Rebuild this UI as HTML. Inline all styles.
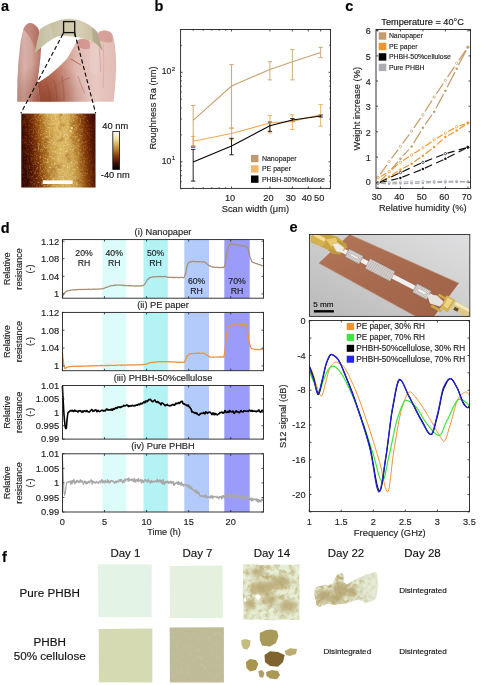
<!DOCTYPE html>
<html><head><meta charset="utf-8"><title>Figure</title>
<style>
html,body{margin:0;padding:0;background:#fff;}
body{width:483px;height:685px;overflow:hidden;}
svg{display:block;font-family:"Liberation Sans", sans-serif;will-change:transform;}
text{stroke-width:0.15px;paint-order:stroke;}
</style></head><body>
<svg width="483" height="685" viewBox="0 0 483 685">

<defs>
<clipPath id="clipHand"><path d="M17.2,101.8 L17.4,80 L18.4,62 L20.5,42 L23.4,29 C25,25.2 27.2,23.2 29.5,23 C33,22.9 36.5,25.5 38.6,29.5 C40.2,35 41.1,42 41,49.4 C40.6,60 39,70 37.8,79.5 L37.4,82 L40,101.8 Z"/><path d="M37.4,82 L39.6,81.7 L48.3,75.9 L58.5,67.2 L67.2,58.5 L73,48.3 L77.3,40.6 L80,38.6 L86,38.4 L91,41 L96.5,33.5 C98.5,31.4 101,30.6 104.5,30.6 C108,30.8 110.8,32 112.2,34.2 C113.8,37.5 114.6,42 115.2,48 C116,55 116.3,62 116.1,70 C115.8,80 115,90 113.6,101.8 L40,101.8 Z"/></clipPath>
<clipPath id="clipE"><rect x="309.5" y="320.5" width="160.0" height="191.1"/></clipPath>
<clipPath id="clipPhotoE"><rect x="309.5" y="234.5" width="160.3" height="81.9"/></clipPath>
<clipPath id="clipD14"><polygon points="242.8,564.6 252,564.2 262,565 275,564.4 290,564.8 299.6,564.3 299.2,578 299.8,592 299.4,606 299.4,620.2 286,619.6 272,620.4 258,619.4 243.2,619.8 243.6,606 242.6,592 243.4,578"/></clipPath>
<clipPath id="clipD22"><polygon points="315.1,587.6 320.4,586.1 325,584.5 328.2,586.1 332.8,583 335,578.3 337.5,574.3 342.1,573 344.3,576.7 343.7,581.4 346.8,584.5 351.5,581.4 354.6,579.8 359.2,577.4 362.3,576.7 365.4,574.3 370.1,573.6 374.8,572.1 377.2,573.6 377.9,586.1 376.3,598.5 371.6,601.6 365.4,603.1 362.3,601 357.7,600 353,601.6 348.4,603.1 342.1,604.1 334.4,604.7 328.2,604.1 323.5,605.6 318.9,607.2 316.4,604.7 315.1,598.5 314.2,592.3"/></clipPath>
<linearGradient id="gPhotoBg" x1="0" y1="1" x2="1" y2="0">
  <stop offset="0" stop-color="#b9b9b9"/><stop offset="0.45" stop-color="#cbcbcb"/><stop offset="1" stop-color="#dfdfe1"/>
</linearGradient>
<linearGradient id="gSub" x1="0" y1="0" x2="1" y2="1">
  <stop offset="0" stop-color="#b27658"/><stop offset="0.5" stop-color="#a86a4e"/><stop offset="1" stop-color="#9e6246"/>
</linearGradient>
<linearGradient id="gThumb" x1="0" y1="0" x2="1" y2="0">
  <stop offset="0" stop-color="#c4948c"/><stop offset="0.3" stop-color="#d8b2aa"/><stop offset="0.6" stop-color="#d2a49a"/><stop offset="1" stop-color="#b87468"/>
</linearGradient>
<radialGradient id="gHandDark" gradientUnits="userSpaceOnUse" cx="48" cy="104" r="42">
  <stop offset="0" stop-color="#6a1e0a" stop-opacity="0.55"/><stop offset="0.45" stop-color="#7a2a14" stop-opacity="0.3"/><stop offset="1" stop-color="#7a2a14" stop-opacity="0"/>
</radialGradient>
<linearGradient id="gSkin" x1="0" y1="0" x2="1" y2="0">
  <stop offset="0" stop-color="#b0604a"/><stop offset="0.2" stop-color="#c07a64"/><stop offset="0.38" stop-color="#d29e90"/><stop offset="0.5" stop-color="#e0bab2"/><stop offset="0.75" stop-color="#e8c8c2"/><stop offset="1" stop-color="#e0bcb4"/>
</linearGradient>
<linearGradient id="gPaper" x1="0" y1="0" x2="1" y2="0">
  <stop offset="0" stop-color="#b2aa8a"/><stop offset="0.3" stop-color="#cbc3a6"/><stop offset="0.65" stop-color="#d6ceb4"/><stop offset="0.9" stop-color="#cac0a2"/><stop offset="1" stop-color="#bab090"/>
</linearGradient>
<linearGradient id="gAFM" x1="0" y1="0.1" x2="1" y2="0">
  <stop offset="0" stop-color="#3a0800"/><stop offset="0.08" stop-color="#561600"/><stop offset="0.16" stop-color="#7a3004"/><stop offset="0.25" stop-color="#a66618"/><stop offset="0.35" stop-color="#cc9c44"/><stop offset="0.47" stop-color="#dfba62"/><stop offset="0.6" stop-color="#dab25c"/><stop offset="0.7" stop-color="#c08a34"/><stop offset="0.8" stop-color="#8a400a"/><stop offset="0.9" stop-color="#581600"/><stop offset="1" stop-color="#380600"/>
</linearGradient>
<linearGradient id="gAFMv" x1="0" y1="0" x2="0" y2="1">
  <stop offset="0" stop-color="#000" stop-opacity="0"/><stop offset="1" stop-color="#000" stop-opacity="0.05"/>
</linearGradient>
<linearGradient id="gCbar" x1="0" y1="0" x2="0" y2="1">
  <stop offset="0" stop-color="#ffffff"/><stop offset="0.2" stop-color="#f2e0a0"/><stop offset="0.45" stop-color="#c08a30"/><stop offset="0.65" stop-color="#8a3a08"/><stop offset="0.85" stop-color="#3a0c00"/><stop offset="1" stop-color="#000000"/>
</linearGradient>
<linearGradient id="gMaskC" x1="0" y1="0" x2="1" y2="0">
  <stop offset="0" stop-color="#fff" stop-opacity="0.15"/><stop offset="0.3" stop-color="#fff" stop-opacity="1"/><stop offset="0.7" stop-color="#fff" stop-opacity="1"/><stop offset="1" stop-color="#fff" stop-opacity="0.1"/>
</linearGradient>
<mask id="mAFMc" maskUnits="userSpaceOnUse" x="21.3" y="113.6" width="74.2" height="73.9"><rect x="21.3" y="113.6" width="74.2" height="73.9" fill="url(#gMaskC)"/></mask>
<linearGradient id="gMaskD22" x1="0" y1="0" x2="1" y2="0">
  <stop offset="0" stop-color="#fff" stop-opacity="1"/><stop offset="0.55" stop-color="#fff" stop-opacity="0.9"/><stop offset="0.8" stop-color="#fff" stop-opacity="0.35"/><stop offset="1" stop-color="#fff" stop-opacity="0.15"/>
</linearGradient>
<mask id="mD22" maskUnits="userSpaceOnUse" x="314" y="571" width="64" height="37"><rect x="314" y="571" width="64" height="37" fill="url(#gMaskD22)"/></mask>
<radialGradient id="gMaskD14" cx="0.45" cy="0.38" r="0.65">
  <stop offset="0" stop-color="#fff" stop-opacity="1"/><stop offset="0.5" stop-color="#fff" stop-opacity="0.85"/><stop offset="1" stop-color="#fff" stop-opacity="0.5"/>
</radialGradient>
<mask id="mD14" maskUnits="userSpaceOnUse" x="242" y="564" width="58" height="57"><rect x="242" y="564" width="58" height="57" fill="url(#gMaskD14)"/></mask>
<filter id="fBlur2" x="-20%" y="-20%" width="140%" height="140%"><feGaussianBlur stdDeviation="2.2"/></filter>
<filter id="fNoise" x="0" y="0" width="100%" height="100%">
  <feTurbulence type="fractalNoise" baseFrequency="0.55" numOctaves="2" seed="4" result="t"/>
  <feColorMatrix in="t" type="matrix" values="0 0 0 0 1.0  0 0 0 0 0.88  0 0 0 0 0.55  0 0 0 3.0 -1.4" result="m"/>
  <feComposite in="m" in2="SourceGraphic" operator="in"/>
</filter>
<filter id="fNoiseD" x="0" y="0" width="100%" height="100%">
  <feTurbulence type="fractalNoise" baseFrequency="0.14" numOctaves="3" seed="9" result="t"/>
  <feColorMatrix in="t" type="matrix" values="0 0 0 0 0.25  0 0 0 0 0.05  0 0 0 0 0.0  0 0 0 2.4 -1.25" result="m"/>
  <feComposite in="m" in2="SourceGraphic" operator="in"/>
</filter>
<filter id="fNoise2" x="0" y="0" width="100%" height="100%">
  <feTurbulence type="fractalNoise" baseFrequency="0.25" numOctaves="2" seed="7" result="t"/>
  <feColorMatrix in="t" type="matrix" values="0 0 0 0 0.6  0 0 0 0 0.57  0 0 0 0 0.45  0 0 0 2.5 -1.3" result="m"/>
  <feComposite in="m" in2="SourceGraphic" operator="in"/>
</filter>
<filter id="fBlot" x="0" y="0" width="100%" height="100%">
  <feTurbulence type="fractalNoise" baseFrequency="0.2" numOctaves="4" seed="11" result="t"/>
  <feColorMatrix in="t" type="matrix" values="0 0 0 0 0.5  0 0 0 0 0.4  0 0 0 0 0.17  0 0 0 2.6 -1.05" result="m"/>
  <feComposite in="m" in2="SourceGraphic" operator="in"/>
</filter>
<filter id="fBlot2" x="0" y="0" width="100%" height="100%">
  <feTurbulence type="fractalNoise" baseFrequency="0.25" numOctaves="4" seed="5" result="t"/>
  <feColorMatrix in="t" type="matrix" values="0 0 0 0 0.48  0 0 0 0 0.38  0 0 0 0 0.15  0 0 0 2.8 -1.1" result="m"/>
  <feComposite in="m" in2="SourceGraphic" operator="in"/>
</filter>
</defs>

<rect x="0" y="0" width="483" height="685" fill="#fff"/>
<text x="0.90" y="10.60" font-size="14.5" text-anchor="start" font-weight="bold" fill="#000" stroke="#000">a</text>
<text x="154.40" y="11.30" font-size="14.5" text-anchor="start" font-weight="bold" fill="#000" stroke="#000">b</text>
<text x="345.20" y="10.60" font-size="14.5" text-anchor="start" font-weight="bold" fill="#000" stroke="#000">c</text>
<text x="0.80" y="232.80" font-size="14.5" text-anchor="start" font-weight="bold" fill="#000" stroke="#000">d</text>
<text x="289.50" y="231.70" font-size="14.5" text-anchor="start" font-weight="bold" fill="#000" stroke="#000">e</text>
<text x="2.00" y="561.70" font-size="14.5" text-anchor="start" font-weight="bold" fill="#000" stroke="#000">f</text>
<line x1="193.16" y1="136.40" x2="193.16" y2="146.20" stroke="#eeab55" stroke-width="0.9"/>
<line x1="190.96" y1="136.40" x2="195.36" y2="136.40" stroke="#eeab55" stroke-width="0.9"/>
<line x1="190.96" y1="146.20" x2="195.36" y2="146.20" stroke="#eeab55" stroke-width="0.9"/>
<line x1="231.54" y1="127.90" x2="231.54" y2="139.70" stroke="#eeab55" stroke-width="0.9"/>
<line x1="229.34" y1="127.90" x2="233.74" y2="127.90" stroke="#eeab55" stroke-width="0.9"/>
<line x1="229.34" y1="139.70" x2="233.74" y2="139.70" stroke="#eeab55" stroke-width="0.9"/>
<line x1="269.92" y1="115.50" x2="269.92" y2="133.00" stroke="#eeab55" stroke-width="0.9"/>
<line x1="267.72" y1="115.50" x2="272.12" y2="115.50" stroke="#eeab55" stroke-width="0.9"/>
<line x1="267.72" y1="133.00" x2="272.12" y2="133.00" stroke="#eeab55" stroke-width="0.9"/>
<line x1="292.37" y1="114.80" x2="292.37" y2="129.60" stroke="#eeab55" stroke-width="0.9"/>
<line x1="290.17" y1="114.80" x2="294.57" y2="114.80" stroke="#eeab55" stroke-width="0.9"/>
<line x1="290.17" y1="129.60" x2="294.57" y2="129.60" stroke="#eeab55" stroke-width="0.9"/>
<line x1="320.66" y1="104.60" x2="320.66" y2="126.20" stroke="#eeab55" stroke-width="0.9"/>
<line x1="318.46" y1="104.60" x2="322.86" y2="104.60" stroke="#eeab55" stroke-width="0.9"/>
<line x1="318.46" y1="126.20" x2="322.86" y2="126.20" stroke="#eeab55" stroke-width="0.9"/>
<line x1="193.16" y1="105.50" x2="193.16" y2="146.00" stroke="#c8a271" stroke-width="0.9"/>
<line x1="190.96" y1="105.50" x2="195.36" y2="105.50" stroke="#c8a271" stroke-width="0.9"/>
<line x1="190.96" y1="146.00" x2="195.36" y2="146.00" stroke="#c8a271" stroke-width="0.9"/>
<line x1="231.54" y1="64.60" x2="231.54" y2="128.30" stroke="#c8a271" stroke-width="0.9"/>
<line x1="229.34" y1="64.60" x2="233.74" y2="64.60" stroke="#c8a271" stroke-width="0.9"/>
<line x1="229.34" y1="128.30" x2="233.74" y2="128.30" stroke="#c8a271" stroke-width="0.9"/>
<line x1="269.92" y1="61.70" x2="269.92" y2="79.90" stroke="#c8a271" stroke-width="0.9"/>
<line x1="267.72" y1="61.70" x2="272.12" y2="61.70" stroke="#c8a271" stroke-width="0.9"/>
<line x1="267.72" y1="79.90" x2="272.12" y2="79.90" stroke="#c8a271" stroke-width="0.9"/>
<line x1="292.37" y1="49.60" x2="292.37" y2="79.90" stroke="#c8a271" stroke-width="0.9"/>
<line x1="290.17" y1="49.60" x2="294.57" y2="49.60" stroke="#c8a271" stroke-width="0.9"/>
<line x1="290.17" y1="79.90" x2="294.57" y2="79.90" stroke="#c8a271" stroke-width="0.9"/>
<line x1="320.66" y1="47.30" x2="320.66" y2="57.60" stroke="#c8a271" stroke-width="0.9"/>
<line x1="318.46" y1="47.30" x2="322.86" y2="47.30" stroke="#c8a271" stroke-width="0.9"/>
<line x1="318.46" y1="57.60" x2="322.86" y2="57.60" stroke="#c8a271" stroke-width="0.9"/>
<line x1="193.16" y1="149.40" x2="193.16" y2="181.10" stroke="#111" stroke-width="0.9"/>
<line x1="190.96" y1="149.40" x2="195.36" y2="149.40" stroke="#111" stroke-width="0.9"/>
<line x1="190.96" y1="181.10" x2="195.36" y2="181.10" stroke="#111" stroke-width="0.9"/>
<line x1="231.54" y1="138.30" x2="231.54" y2="154.80" stroke="#111" stroke-width="0.9"/>
<line x1="229.34" y1="138.30" x2="233.74" y2="138.30" stroke="#111" stroke-width="0.9"/>
<line x1="229.34" y1="154.80" x2="233.74" y2="154.80" stroke="#111" stroke-width="0.9"/>
<line x1="269.92" y1="122.10" x2="269.92" y2="131.40" stroke="#111" stroke-width="0.9"/>
<line x1="267.72" y1="122.10" x2="272.12" y2="122.10" stroke="#111" stroke-width="0.9"/>
<line x1="267.72" y1="131.40" x2="272.12" y2="131.40" stroke="#111" stroke-width="0.9"/>
<line x1="292.37" y1="118.60" x2="292.37" y2="121.60" stroke="#111" stroke-width="0.9"/>
<line x1="290.17" y1="118.60" x2="294.57" y2="118.60" stroke="#111" stroke-width="0.9"/>
<line x1="290.17" y1="121.60" x2="294.57" y2="121.60" stroke="#111" stroke-width="0.9"/>
<line x1="320.66" y1="115.00" x2="320.66" y2="117.00" stroke="#111" stroke-width="0.9"/>
<line x1="318.46" y1="115.00" x2="322.86" y2="115.00" stroke="#111" stroke-width="0.9"/>
<line x1="318.46" y1="117.00" x2="322.86" y2="117.00" stroke="#111" stroke-width="0.9"/>
<line x1="190.96" y1="146.30" x2="195.36" y2="146.30" stroke="#e0603a" stroke-width="0.9"/>
<line x1="190.96" y1="147.50" x2="195.36" y2="147.50" stroke="#4a78d0" stroke-width="0.9"/>
<polyline points="193.16,120.30 231.54,86.00 269.92,69.40 292.37,61.70 320.66,52.60" fill="none" stroke="#c8a271" stroke-width="1.1" stroke-linejoin="round"/>
<polyline points="193.16,141.20 231.54,133.50 269.92,123.00 292.37,121.40 320.66,114.80" fill="none" stroke="#eeab55" stroke-width="1.1" stroke-linejoin="round"/>
<polyline points="193.16,161.90 231.54,145.90 269.92,125.80 292.37,120.00 320.66,116.00" fill="none" stroke="#000" stroke-width="1.1" stroke-linejoin="round"/>
<rect x="180.60" y="29.50" width="149.90" height="158.90" fill="none" stroke="#222" stroke-width="0.9"/>
<line x1="180.60" y1="188.74" x2="181.80" y2="188.74" stroke="#222" stroke-width="0.8"/>
<line x1="330.50" y1="188.74" x2="329.30" y2="188.74" stroke="#222" stroke-width="0.8"/>
<line x1="180.60" y1="181.66" x2="181.80" y2="181.66" stroke="#222" stroke-width="0.8"/>
<line x1="330.50" y1="181.66" x2="329.30" y2="181.66" stroke="#222" stroke-width="0.8"/>
<line x1="180.60" y1="175.66" x2="181.80" y2="175.66" stroke="#222" stroke-width="0.8"/>
<line x1="330.50" y1="175.66" x2="329.30" y2="175.66" stroke="#222" stroke-width="0.8"/>
<line x1="180.60" y1="170.47" x2="181.80" y2="170.47" stroke="#222" stroke-width="0.8"/>
<line x1="330.50" y1="170.47" x2="329.30" y2="170.47" stroke="#222" stroke-width="0.8"/>
<line x1="180.60" y1="165.90" x2="181.80" y2="165.90" stroke="#222" stroke-width="0.8"/>
<line x1="330.50" y1="165.90" x2="329.30" y2="165.90" stroke="#222" stroke-width="0.8"/>
<line x1="180.60" y1="161.80" x2="182.60" y2="161.80" stroke="#222" stroke-width="0.8"/>
<line x1="330.50" y1="161.80" x2="328.50" y2="161.80" stroke="#222" stroke-width="0.8"/>
<line x1="180.60" y1="134.86" x2="181.80" y2="134.86" stroke="#222" stroke-width="0.8"/>
<line x1="330.50" y1="134.86" x2="329.30" y2="134.86" stroke="#222" stroke-width="0.8"/>
<line x1="180.60" y1="119.10" x2="181.80" y2="119.10" stroke="#222" stroke-width="0.8"/>
<line x1="330.50" y1="119.10" x2="329.30" y2="119.10" stroke="#222" stroke-width="0.8"/>
<line x1="180.60" y1="107.92" x2="181.80" y2="107.92" stroke="#222" stroke-width="0.8"/>
<line x1="330.50" y1="107.92" x2="329.30" y2="107.92" stroke="#222" stroke-width="0.8"/>
<line x1="180.60" y1="99.24" x2="181.80" y2="99.24" stroke="#222" stroke-width="0.8"/>
<line x1="330.50" y1="99.24" x2="329.30" y2="99.24" stroke="#222" stroke-width="0.8"/>
<line x1="180.60" y1="92.16" x2="181.80" y2="92.16" stroke="#222" stroke-width="0.8"/>
<line x1="330.50" y1="92.16" x2="329.30" y2="92.16" stroke="#222" stroke-width="0.8"/>
<line x1="180.60" y1="86.16" x2="181.80" y2="86.16" stroke="#222" stroke-width="0.8"/>
<line x1="330.50" y1="86.16" x2="329.30" y2="86.16" stroke="#222" stroke-width="0.8"/>
<line x1="180.60" y1="80.97" x2="181.80" y2="80.97" stroke="#222" stroke-width="0.8"/>
<line x1="330.50" y1="80.97" x2="329.30" y2="80.97" stroke="#222" stroke-width="0.8"/>
<line x1="180.60" y1="76.40" x2="181.80" y2="76.40" stroke="#222" stroke-width="0.8"/>
<line x1="330.50" y1="76.40" x2="329.30" y2="76.40" stroke="#222" stroke-width="0.8"/>
<line x1="180.60" y1="72.30" x2="182.60" y2="72.30" stroke="#222" stroke-width="0.8"/>
<line x1="330.50" y1="72.30" x2="328.50" y2="72.30" stroke="#222" stroke-width="0.8"/>
<line x1="180.60" y1="45.36" x2="181.80" y2="45.36" stroke="#222" stroke-width="0.8"/>
<line x1="330.50" y1="45.36" x2="329.30" y2="45.36" stroke="#222" stroke-width="0.8"/>
<line x1="180.60" y1="29.60" x2="181.80" y2="29.60" stroke="#222" stroke-width="0.8"/>
<line x1="330.50" y1="29.60" x2="329.30" y2="29.60" stroke="#222" stroke-width="0.8"/>
<line x1="193.16" y1="188.40" x2="193.16" y2="187.20" stroke="#222" stroke-width="0.8"/>
<line x1="193.16" y1="29.50" x2="193.16" y2="30.70" stroke="#222" stroke-width="0.8"/>
<line x1="203.25" y1="188.40" x2="203.25" y2="187.20" stroke="#222" stroke-width="0.8"/>
<line x1="203.25" y1="29.50" x2="203.25" y2="30.70" stroke="#222" stroke-width="0.8"/>
<line x1="211.79" y1="188.40" x2="211.79" y2="187.20" stroke="#222" stroke-width="0.8"/>
<line x1="211.79" y1="29.50" x2="211.79" y2="30.70" stroke="#222" stroke-width="0.8"/>
<line x1="219.18" y1="188.40" x2="219.18" y2="187.20" stroke="#222" stroke-width="0.8"/>
<line x1="219.18" y1="29.50" x2="219.18" y2="30.70" stroke="#222" stroke-width="0.8"/>
<line x1="225.70" y1="188.40" x2="225.70" y2="187.20" stroke="#222" stroke-width="0.8"/>
<line x1="225.70" y1="29.50" x2="225.70" y2="30.70" stroke="#222" stroke-width="0.8"/>
<line x1="231.54" y1="188.40" x2="231.54" y2="186.40" stroke="#222" stroke-width="0.8"/>
<line x1="231.54" y1="29.50" x2="231.54" y2="31.50" stroke="#222" stroke-width="0.8"/>
<line x1="269.92" y1="188.40" x2="269.92" y2="186.40" stroke="#222" stroke-width="0.8"/>
<line x1="269.92" y1="29.50" x2="269.92" y2="31.50" stroke="#222" stroke-width="0.8"/>
<line x1="292.37" y1="188.40" x2="292.37" y2="186.40" stroke="#222" stroke-width="0.8"/>
<line x1="292.37" y1="29.50" x2="292.37" y2="31.50" stroke="#222" stroke-width="0.8"/>
<line x1="308.30" y1="188.40" x2="308.30" y2="186.40" stroke="#222" stroke-width="0.8"/>
<line x1="308.30" y1="29.50" x2="308.30" y2="31.50" stroke="#222" stroke-width="0.8"/>
<line x1="320.66" y1="188.40" x2="320.66" y2="186.40" stroke="#222" stroke-width="0.8"/>
<line x1="320.66" y1="29.50" x2="320.66" y2="31.50" stroke="#222" stroke-width="0.8"/>
<text x="230.04" y="201.20" font-size="9.2" text-anchor="middle" font-weight="normal" fill="#222" stroke="#222">10</text>
<text x="268.42" y="201.20" font-size="9.2" text-anchor="middle" font-weight="normal" fill="#222" stroke="#222">20</text>
<text x="290.87" y="201.20" font-size="9.2" text-anchor="middle" font-weight="normal" fill="#222" stroke="#222">30</text>
<text x="306.80" y="201.20" font-size="9.2" text-anchor="middle" font-weight="normal" fill="#222" stroke="#222">40</text>
<text x="319.16" y="201.20" font-size="9.2" text-anchor="middle" font-weight="normal" fill="#222" stroke="#222">50</text>
<text x="171.30" y="74.10" font-size="8.6" text-anchor="end" font-weight="normal" fill="#222" stroke="#222">10</text>
<text x="171.70" y="70.50" font-size="6.2" text-anchor="start" font-weight="normal" fill="#222" stroke="#222">2</text>
<text x="171.30" y="163.60" font-size="8.6" text-anchor="end" font-weight="normal" fill="#222" stroke="#222">10</text>
<text x="171.70" y="160.00" font-size="6.2" text-anchor="start" font-weight="normal" fill="#222" stroke="#222">1</text>
<text x="255.40" y="212.00" font-size="9.3" text-anchor="middle" font-weight="normal" fill="#222" stroke="#222">Scan width (μm)</text>
<text x="155.60" y="108.00" font-size="9.3" text-anchor="middle" font-weight="normal" fill="#222" stroke="#222" transform="rotate(-90 155.6 108.0)">Roughness Ra (nm)</text>
<rect x="251.00" y="154.90" width="7.50" height="7.30" fill="#c09a70" stroke="none" stroke-width="1"/>
<rect x="251.00" y="165.30" width="7.50" height="7.30" fill="#f0b868" stroke="none" stroke-width="1"/>
<rect x="251.00" y="175.50" width="7.50" height="7.30" fill="#000" stroke="none" stroke-width="1"/>
<text x="261.90" y="161.00" font-size="7.0" text-anchor="start" font-weight="normal" fill="#222" stroke="#222">Nanopaper</text>
<text x="261.90" y="171.30" font-size="7.0" text-anchor="start" font-weight="normal" fill="#222" stroke="#222">PE paper</text>
<text x="261.90" y="182.00" font-size="7.0" text-anchor="start" font-weight="normal" fill="#222" stroke="#222">PHBH-50%cellulose</text>
<line x1="380.16" y1="174.29" x2="386.89" y2="164.78" stroke="#c49b6c" stroke-width="1.2"/>
<line x1="391.48" y1="158.47" x2="398.07" y2="149.62" stroke="#c49b6c" stroke-width="1.2"/>
<line x1="402.70" y1="143.35" x2="409.35" y2="134.28" stroke="#c49b6c" stroke-width="1.2"/>
<line x1="413.86" y1="127.92" x2="420.69" y2="117.96" stroke="#c49b6c" stroke-width="1.2"/>
<line x1="425.00" y1="111.46" x2="432.05" y2="100.37" stroke="#c49b6c" stroke-width="1.2"/>
<line x1="436.33" y1="93.85" x2="443.22" y2="83.67" stroke="#c49b6c" stroke-width="1.2"/>
<line x1="447.54" y1="77.18" x2="454.51" y2="66.55" stroke="#c49b6c" stroke-width="1.2"/>
<line x1="458.88" y1="60.09" x2="465.67" y2="50.36" stroke="#c49b6c" stroke-width="1.2"/>
<circle cx="377.90" cy="177.47" r="1.2" fill="#fff" stroke="#c49b6c" stroke-width="0.7"/>
<circle cx="389.15" cy="161.60" r="1.2" fill="#fff" stroke="#c49b6c" stroke-width="0.7"/>
<circle cx="400.40" cy="146.49" r="1.2" fill="#fff" stroke="#c49b6c" stroke-width="0.7"/>
<circle cx="411.65" cy="131.13" r="1.2" fill="#fff" stroke="#c49b6c" stroke-width="0.7"/>
<circle cx="422.90" cy="114.75" r="1.2" fill="#fff" stroke="#c49b6c" stroke-width="0.7"/>
<circle cx="434.15" cy="97.08" r="1.2" fill="#fff" stroke="#c49b6c" stroke-width="0.7"/>
<circle cx="445.40" cy="80.44" r="1.2" fill="#fff" stroke="#c49b6c" stroke-width="0.7"/>
<circle cx="456.65" cy="63.29" r="1.2" fill="#fff" stroke="#c49b6c" stroke-width="0.7"/>
<circle cx="467.90" cy="47.16" r="1.2" fill="#fff" stroke="#c49b6c" stroke-width="0.7"/>
<line x1="380.69" y1="180.37" x2="386.36" y2="174.82" stroke="#c49b6c" stroke-width="1.2"/>
<line x1="391.67" y1="169.11" x2="397.88" y2="161.76" stroke="#c49b6c" stroke-width="1.2"/>
<line x1="403.03" y1="155.90" x2="409.02" y2="149.37" stroke="#c49b6c" stroke-width="1.2"/>
<line x1="413.66" y1="143.15" x2="420.89" y2="131.15" stroke="#c49b6c" stroke-width="1.2"/>
<line x1="425.13" y1="124.61" x2="431.92" y2="114.87" stroke="#c49b6c" stroke-width="1.2"/>
<line x1="435.99" y1="108.24" x2="443.56" y2="94.12" stroke="#c49b6c" stroke-width="1.2"/>
<line x1="447.17" y1="87.21" x2="454.88" y2="72.14" stroke="#c49b6c" stroke-width="1.2"/>
<line x1="458.46" y1="65.21" x2="466.09" y2="50.62" stroke="#c49b6c" stroke-width="1.2"/>
<circle cx="377.90" cy="183.10" r="1.25" fill="#c49b6c"/>
<circle cx="389.15" cy="172.09" r="1.25" fill="#c49b6c"/>
<circle cx="400.40" cy="158.78" r="1.25" fill="#c49b6c"/>
<circle cx="411.65" cy="146.49" r="1.25" fill="#c49b6c"/>
<circle cx="422.90" cy="127.80" r="1.25" fill="#c49b6c"/>
<circle cx="434.15" cy="111.68" r="1.25" fill="#c49b6c"/>
<circle cx="445.40" cy="90.68" r="1.25" fill="#c49b6c"/>
<circle cx="456.65" cy="68.67" r="1.25" fill="#c49b6c"/>
<circle cx="467.90" cy="47.16" r="1.25" fill="#c49b6c"/>
<line x1="380.68" y1="176.40" x2="386.37" y2="173.16" stroke="#f0952e" stroke-width="1.2"/>
<line x1="391.63" y1="169.55" x2="397.92" y2="164.39" stroke="#f0952e" stroke-width="1.2"/>
<line x1="403.07" y1="160.60" x2="408.98" y2="156.70" stroke="#f0952e" stroke-width="1.2"/>
<line x1="414.35" y1="153.22" x2="420.20" y2="149.49" stroke="#f0952e" stroke-width="1.2"/>
<line x1="425.51" y1="145.93" x2="431.54" y2="141.68" stroke="#f0952e" stroke-width="1.2"/>
<line x1="436.90" y1="138.21" x2="442.65" y2="134.81" stroke="#f0952e" stroke-width="1.2"/>
<line x1="448.18" y1="131.60" x2="453.87" y2="128.36" stroke="#f0952e" stroke-width="1.2"/>
<line x1="459.68" y1="125.75" x2="464.87" y2="123.97" stroke="#f0952e" stroke-width="1.2"/>
<circle cx="377.90" cy="177.98" r="1.2" fill="#fff" stroke="#f0952e" stroke-width="0.7"/>
<circle cx="389.15" cy="171.58" r="1.2" fill="#fff" stroke="#f0952e" stroke-width="0.7"/>
<circle cx="400.40" cy="162.36" r="1.2" fill="#fff" stroke="#f0952e" stroke-width="0.7"/>
<circle cx="411.65" cy="154.94" r="1.2" fill="#fff" stroke="#f0952e" stroke-width="0.7"/>
<circle cx="422.90" cy="147.77" r="1.2" fill="#fff" stroke="#f0952e" stroke-width="0.7"/>
<circle cx="434.15" cy="139.84" r="1.2" fill="#fff" stroke="#f0952e" stroke-width="0.7"/>
<circle cx="445.40" cy="133.18" r="1.2" fill="#fff" stroke="#f0952e" stroke-width="0.7"/>
<circle cx="456.65" cy="126.78" r="1.2" fill="#fff" stroke="#f0952e" stroke-width="0.7"/>
<circle cx="467.90" cy="122.94" r="1.2" fill="#fff" stroke="#f0952e" stroke-width="0.7"/>
<line x1="380.68" y1="181.52" x2="386.37" y2="178.28" stroke="#f0952e" stroke-width="1.2"/>
<line x1="391.88" y1="175.02" x2="397.67" y2="171.46" stroke="#f0952e" stroke-width="1.2"/>
<line x1="403.21" y1="168.25" x2="408.84" y2="165.18" stroke="#f0952e" stroke-width="1.2"/>
<line x1="414.26" y1="161.80" x2="420.29" y2="157.55" stroke="#f0952e" stroke-width="1.2"/>
<line x1="425.43" y1="153.75" x2="431.62" y2="148.96" stroke="#f0952e" stroke-width="1.2"/>
<line x1="437.07" y1="144.42" x2="442.48" y2="139.61" stroke="#f0952e" stroke-width="1.2"/>
<line x1="448.18" y1="135.44" x2="453.87" y2="132.20" stroke="#f0952e" stroke-width="1.2"/>
<line x1="459.29" y1="128.82" x2="465.26" y2="124.74" stroke="#f0952e" stroke-width="1.2"/>
<circle cx="377.90" cy="183.10" r="1.25" fill="#f0952e"/>
<circle cx="389.15" cy="176.70" r="1.25" fill="#f0952e"/>
<circle cx="400.40" cy="169.79" r="1.25" fill="#f0952e"/>
<circle cx="411.65" cy="163.64" r="1.25" fill="#f0952e"/>
<circle cx="422.90" cy="155.71" r="1.25" fill="#f0952e"/>
<circle cx="434.15" cy="147.00" r="1.25" fill="#f0952e"/>
<circle cx="445.40" cy="137.02" r="1.25" fill="#f0952e"/>
<circle cx="456.65" cy="130.62" r="1.25" fill="#f0952e"/>
<circle cx="467.90" cy="122.94" r="1.25" fill="#f0952e"/>
<line x1="379.89" y1="182.17" x2="387.16" y2="178.78" stroke="#111" stroke-width="1.2"/>
<line x1="391.14" y1="176.92" x2="398.41" y2="173.53" stroke="#111" stroke-width="1.2"/>
<line x1="402.40" y1="171.69" x2="409.65" y2="168.40" stroke="#111" stroke-width="1.2"/>
<line x1="413.65" y1="166.57" x2="420.90" y2="163.28" stroke="#111" stroke-width="1.2"/>
<line x1="424.95" y1="161.57" x2="432.10" y2="158.81" stroke="#111" stroke-width="1.2"/>
<line x1="436.20" y1="157.22" x2="443.35" y2="154.45" stroke="#111" stroke-width="1.2"/>
<line x1="447.52" y1="153.06" x2="454.53" y2="151.06" stroke="#111" stroke-width="1.2"/>
<line x1="458.77" y1="149.86" x2="465.78" y2="147.86" stroke="#111" stroke-width="1.2"/>
<circle cx="377.90" cy="183.10" r="1.2" fill="#fff" stroke="#111" stroke-width="0.7"/>
<circle cx="400.40" cy="172.60" r="1.2" fill="#fff" stroke="#111" stroke-width="0.7"/>
<circle cx="422.90" cy="162.36" r="1.2" fill="#fff" stroke="#111" stroke-width="0.7"/>
<circle cx="445.40" cy="153.66" r="1.2" fill="#fff" stroke="#111" stroke-width="0.7"/>
<circle cx="467.90" cy="147.26" r="1.2" fill="#fff" stroke="#111" stroke-width="0.7"/>
<line x1="380.05" y1="182.61" x2="387.00" y2="181.03" stroke="#111" stroke-width="1.2"/>
<line x1="391.30" y1="180.05" x2="398.25" y2="178.47" stroke="#111" stroke-width="1.2"/>
<line x1="402.44" y1="177.17" x2="409.61" y2="174.31" stroke="#111" stroke-width="1.2"/>
<line x1="413.69" y1="172.69" x2="420.86" y2="169.83" stroke="#111" stroke-width="1.2"/>
<line x1="424.90" y1="168.11" x2="432.15" y2="164.81" stroke="#111" stroke-width="1.2"/>
<line x1="436.15" y1="162.99" x2="443.40" y2="159.69" stroke="#111" stroke-width="1.2"/>
<line x1="447.36" y1="157.78" x2="454.69" y2="154.02" stroke="#111" stroke-width="1.2"/>
<line x1="458.61" y1="152.02" x2="465.94" y2="148.26" stroke="#111" stroke-width="1.2"/>
<circle cx="377.90" cy="183.10" r="1.25" fill="#111"/>
<circle cx="400.40" cy="177.98" r="1.25" fill="#111"/>
<circle cx="422.90" cy="169.02" r="1.25" fill="#111"/>
<circle cx="445.40" cy="158.78" r="1.25" fill="#111"/>
<circle cx="467.90" cy="147.26" r="1.25" fill="#111"/>
<line x1="381.10" y1="182.95" x2="385.95" y2="182.73" stroke="#a9acb0" stroke-width="1.2"/>
<line x1="392.35" y1="182.44" x2="397.20" y2="182.22" stroke="#a9acb0" stroke-width="1.2"/>
<line x1="403.60" y1="182.00" x2="408.45" y2="181.89" stroke="#a9acb0" stroke-width="1.2"/>
<line x1="414.85" y1="181.75" x2="419.70" y2="181.64" stroke="#a9acb0" stroke-width="1.2"/>
<line x1="426.10" y1="181.56" x2="430.95" y2="181.56" stroke="#a9acb0" stroke-width="1.2"/>
<line x1="437.35" y1="181.49" x2="442.20" y2="181.38" stroke="#a9acb0" stroke-width="1.2"/>
<line x1="448.60" y1="181.31" x2="453.45" y2="181.31" stroke="#a9acb0" stroke-width="1.2"/>
<line x1="459.85" y1="181.45" x2="464.70" y2="181.67" stroke="#a9acb0" stroke-width="1.2"/>
<circle cx="377.90" cy="183.10" r="1.2" fill="#fff" stroke="#a9acb0" stroke-width="0.7"/>
<circle cx="389.15" cy="182.59" r="1.2" fill="#fff" stroke="#a9acb0" stroke-width="0.7"/>
<circle cx="400.40" cy="182.08" r="1.2" fill="#fff" stroke="#a9acb0" stroke-width="0.7"/>
<circle cx="411.65" cy="181.82" r="1.2" fill="#fff" stroke="#a9acb0" stroke-width="0.7"/>
<circle cx="422.90" cy="181.56" r="1.2" fill="#fff" stroke="#a9acb0" stroke-width="0.7"/>
<circle cx="434.15" cy="181.56" r="1.2" fill="#fff" stroke="#a9acb0" stroke-width="0.7"/>
<circle cx="445.40" cy="181.31" r="1.2" fill="#fff" stroke="#a9acb0" stroke-width="0.7"/>
<circle cx="456.65" cy="181.31" r="1.2" fill="#fff" stroke="#a9acb0" stroke-width="0.7"/>
<circle cx="467.90" cy="181.82" r="1.2" fill="#fff" stroke="#a9acb0" stroke-width="0.7"/>
<line x1="381.09" y1="183.32" x2="385.96" y2="183.65" stroke="#a9acb0" stroke-width="1.2"/>
<line x1="392.35" y1="183.80" x2="397.20" y2="183.68" stroke="#a9acb0" stroke-width="1.2"/>
<line x1="403.60" y1="183.54" x2="408.45" y2="183.43" stroke="#a9acb0" stroke-width="1.2"/>
<line x1="414.85" y1="183.28" x2="419.70" y2="183.17" stroke="#a9acb0" stroke-width="1.2"/>
<line x1="426.10" y1="182.95" x2="430.95" y2="182.73" stroke="#a9acb0" stroke-width="1.2"/>
<line x1="437.35" y1="182.52" x2="442.20" y2="182.40" stroke="#a9acb0" stroke-width="1.2"/>
<line x1="448.60" y1="182.26" x2="453.45" y2="182.15" stroke="#a9acb0" stroke-width="1.2"/>
<line x1="459.85" y1="182.00" x2="464.70" y2="181.89" stroke="#a9acb0" stroke-width="1.2"/>
<circle cx="377.90" cy="183.10" r="1.25" fill="#a9acb0"/>
<circle cx="389.15" cy="183.87" r="1.25" fill="#a9acb0"/>
<circle cx="400.40" cy="183.61" r="1.25" fill="#a9acb0"/>
<circle cx="411.65" cy="183.36" r="1.25" fill="#a9acb0"/>
<circle cx="422.90" cy="183.10" r="1.25" fill="#a9acb0"/>
<circle cx="434.15" cy="182.59" r="1.25" fill="#a9acb0"/>
<circle cx="445.40" cy="182.33" r="1.25" fill="#a9acb0"/>
<circle cx="456.65" cy="182.08" r="1.25" fill="#a9acb0"/>
<circle cx="467.90" cy="181.82" r="1.25" fill="#a9acb0"/>
<rect x="376.00" y="29.50" width="94.50" height="159.00" fill="none" stroke="#222" stroke-width="0.9"/>
<line x1="376.00" y1="182.40" x2="378.00" y2="182.40" stroke="#222" stroke-width="0.8"/>
<line x1="470.50" y1="182.40" x2="468.50" y2="182.40" stroke="#222" stroke-width="0.8"/>
<text x="370.80" y="185.00" font-size="9.0" text-anchor="end" font-weight="normal" fill="#222" stroke="#222">0</text>
<line x1="376.00" y1="157.10" x2="378.00" y2="157.10" stroke="#222" stroke-width="0.8"/>
<line x1="470.50" y1="157.10" x2="468.50" y2="157.10" stroke="#222" stroke-width="0.8"/>
<text x="370.80" y="160.80" font-size="9.0" text-anchor="end" font-weight="normal" fill="#222" stroke="#222">1</text>
<line x1="376.00" y1="131.80" x2="378.00" y2="131.80" stroke="#222" stroke-width="0.8"/>
<line x1="470.50" y1="131.80" x2="468.50" y2="131.80" stroke="#222" stroke-width="0.8"/>
<text x="370.80" y="135.50" font-size="9.0" text-anchor="end" font-weight="normal" fill="#222" stroke="#222">2</text>
<line x1="376.00" y1="106.20" x2="378.00" y2="106.20" stroke="#222" stroke-width="0.8"/>
<line x1="470.50" y1="106.20" x2="468.50" y2="106.20" stroke="#222" stroke-width="0.8"/>
<text x="370.80" y="109.80" font-size="9.0" text-anchor="end" font-weight="normal" fill="#222" stroke="#222">3</text>
<line x1="376.00" y1="81.00" x2="378.00" y2="81.00" stroke="#222" stroke-width="0.8"/>
<line x1="470.50" y1="81.00" x2="468.50" y2="81.00" stroke="#222" stroke-width="0.8"/>
<text x="370.80" y="84.80" font-size="9.0" text-anchor="end" font-weight="normal" fill="#222" stroke="#222">4</text>
<line x1="376.00" y1="55.90" x2="378.00" y2="55.90" stroke="#222" stroke-width="0.8"/>
<line x1="470.50" y1="55.90" x2="468.50" y2="55.90" stroke="#222" stroke-width="0.8"/>
<text x="370.80" y="59.70" font-size="9.0" text-anchor="end" font-weight="normal" fill="#222" stroke="#222">5</text>
<line x1="376.00" y1="30.70" x2="378.00" y2="30.70" stroke="#222" stroke-width="0.8"/>
<line x1="470.50" y1="30.70" x2="468.50" y2="30.70" stroke="#222" stroke-width="0.8"/>
<text x="370.80" y="34.40" font-size="9.0" text-anchor="end" font-weight="normal" fill="#222" stroke="#222">6</text>
<line x1="377.90" y1="188.50" x2="377.90" y2="186.50" stroke="#222" stroke-width="0.8"/>
<line x1="377.90" y1="29.50" x2="377.90" y2="31.50" stroke="#222" stroke-width="0.8"/>
<text x="376.70" y="199.80" font-size="9.0" text-anchor="middle" font-weight="normal" fill="#222" stroke="#222">30</text>
<line x1="400.40" y1="188.50" x2="400.40" y2="186.50" stroke="#222" stroke-width="0.8"/>
<line x1="400.40" y1="29.50" x2="400.40" y2="31.50" stroke="#222" stroke-width="0.8"/>
<text x="399.20" y="199.80" font-size="9.0" text-anchor="middle" font-weight="normal" fill="#222" stroke="#222">40</text>
<line x1="422.90" y1="188.50" x2="422.90" y2="186.50" stroke="#222" stroke-width="0.8"/>
<line x1="422.90" y1="29.50" x2="422.90" y2="31.50" stroke="#222" stroke-width="0.8"/>
<text x="421.70" y="199.80" font-size="9.0" text-anchor="middle" font-weight="normal" fill="#222" stroke="#222">50</text>
<line x1="445.40" y1="188.50" x2="445.40" y2="186.50" stroke="#222" stroke-width="0.8"/>
<line x1="445.40" y1="29.50" x2="445.40" y2="31.50" stroke="#222" stroke-width="0.8"/>
<text x="444.20" y="199.80" font-size="9.0" text-anchor="middle" font-weight="normal" fill="#222" stroke="#222">60</text>
<line x1="467.90" y1="188.50" x2="467.90" y2="186.50" stroke="#222" stroke-width="0.8"/>
<line x1="467.90" y1="29.50" x2="467.90" y2="31.50" stroke="#222" stroke-width="0.8"/>
<text x="466.70" y="199.80" font-size="9.0" text-anchor="middle" font-weight="normal" fill="#222" stroke="#222">70</text>
<text x="422.80" y="211.20" font-size="9.3" text-anchor="middle" font-weight="normal" fill="#222" stroke="#222">Relative humidity (%)</text>
<text x="359.80" y="108.70" font-size="9.3" text-anchor="middle" font-weight="normal" fill="#222" stroke="#222" transform="rotate(-90 359.8 108.7)">Weight increase (%)</text>
<text x="422.60" y="25.20" font-size="9.2" text-anchor="middle" font-weight="normal" fill="#111" stroke="#111">Temperature = 40°C</text>
<rect x="378.70" y="32.30" width="7.60" height="7.40" fill="#c49b6c" stroke="none" stroke-width="1"/>
<text x="388.90" y="38.30" font-size="6.9" text-anchor="start" font-weight="normal" fill="#222" stroke="#222">Nanopaper</text>
<rect x="378.70" y="42.77" width="7.60" height="7.40" fill="#f0952e" stroke="none" stroke-width="1"/>
<text x="388.90" y="48.77" font-size="6.9" text-anchor="start" font-weight="normal" fill="#222" stroke="#222">PE paper</text>
<rect x="378.70" y="53.24" width="7.60" height="7.40" fill="#000" stroke="none" stroke-width="1"/>
<text x="388.90" y="59.24" font-size="6.9" text-anchor="start" font-weight="normal" fill="#222" stroke="#222">PHBH-50%cellulose</text>
<rect x="378.70" y="63.71" width="7.60" height="7.40" fill="#a9acb0" stroke="none" stroke-width="1"/>
<text x="388.90" y="69.71" font-size="6.9" text-anchor="start" font-weight="normal" fill="#222" stroke="#222">Pure PHBH</text>
<rect x="102.20" y="239.60" width="23.90" height="58.60" fill="#dcfbfb" stroke="none" stroke-width="1"/>
<rect x="143.50" y="239.60" width="24.30" height="58.60" fill="#b3f2f5" stroke="none" stroke-width="1"/>
<rect x="184.30" y="239.60" width="24.70" height="58.60" fill="#b3cbfa" stroke="none" stroke-width="1"/>
<rect x="224.30" y="239.60" width="25.40" height="58.60" fill="#9b9bf9" stroke="none" stroke-width="1"/>
<polyline points="62.40,297.50 62.90,296.14 63.40,294.77 63.90,293.91 64.40,293.18 64.90,292.45 65.40,292.04 65.90,291.71 66.40,291.39 66.90,291.06 67.40,290.92 67.90,290.81 68.40,290.67 68.90,290.60 69.40,290.55 69.90,290.42 70.40,290.24 70.90,290.16 71.40,290.07 71.90,290.06 72.40,289.94 72.90,289.95 73.40,290.04 73.90,289.97 74.40,289.93 74.90,289.83 75.40,289.74 75.90,289.69 76.40,289.65 76.90,289.71 77.40,289.65 77.90,289.57 78.40,289.53 78.90,289.48 79.40,289.45 79.90,289.47 80.40,289.42 80.90,289.42 81.40,289.58 81.90,289.60 82.40,289.47 82.90,289.36 83.40,289.32 83.90,289.46 84.40,289.49 84.90,289.34 85.40,289.34 85.90,289.49 86.40,289.47 86.90,289.37 87.40,289.37 87.90,289.30 88.40,289.20 88.90,289.19 89.40,289.23 89.90,289.28 90.40,289.33 90.90,289.33 91.40,289.29 91.90,289.27 92.40,289.20 92.90,289.21 93.40,289.27 93.90,289.17 94.40,289.15 94.90,289.15 95.40,289.18 95.90,289.26 96.40,289.31 96.90,289.12 97.40,288.89 97.90,288.94 98.40,289.02 98.90,289.09 99.40,289.09 99.90,288.90 100.40,288.81 100.90,288.91 101.40,288.88 101.90,288.81 102.40,288.71 102.90,288.59 103.40,288.44 103.90,288.28 104.40,288.08 104.90,287.86 105.40,287.61 105.90,287.42 106.40,287.29 106.90,287.16 107.40,287.05 107.90,286.82 108.40,286.55 108.90,286.32 109.40,286.20 109.90,286.07 110.40,285.91 110.90,285.82 111.40,285.72 111.90,285.67 112.40,285.60 112.90,285.54 113.40,285.50 113.90,285.38 114.40,285.26 114.90,285.21 115.40,285.31 115.90,285.22 116.40,285.15 116.90,285.19 117.40,285.11 117.90,285.11 118.40,285.22 118.90,285.14 119.40,285.09 119.90,285.05 120.40,285.05 120.90,285.06 121.40,285.16 121.90,285.32 122.40,285.28 122.90,285.25 123.40,285.36 123.90,285.55 124.40,285.40 124.90,285.39 125.40,285.63 125.90,285.61 126.40,285.47 126.90,285.53 127.40,285.62 127.90,285.56 128.40,285.52 128.90,285.62 129.40,285.77 129.90,285.73 130.40,285.74 130.90,285.73 131.40,285.78 131.90,285.88 132.40,285.85 132.90,285.87 133.40,285.96 133.90,286.04 134.40,286.04 134.90,286.03 135.40,286.00 135.90,286.02 136.40,286.02 136.90,286.01 137.40,285.96 137.90,285.76 138.40,285.83 138.90,286.10 139.40,286.05 139.90,285.90 140.40,285.85 140.90,285.84 141.40,285.83 141.90,285.76 142.40,285.72 142.90,285.71 143.40,285.40 143.90,284.99 144.40,284.55 144.90,284.11 145.40,283.25 145.90,282.27 146.40,281.34 146.90,280.22 147.40,279.51 147.90,279.27 148.40,279.04 148.90,278.55 149.40,277.99 149.90,277.57 150.40,277.49 150.90,277.40 151.40,277.27 151.90,277.18 152.40,276.97 152.90,276.92 153.40,276.94 153.90,276.91 154.40,276.78 154.90,276.57 155.40,276.59 155.90,276.64 156.40,276.62 156.90,276.59 157.40,276.64 157.90,276.66 158.40,276.70 158.90,276.74 159.40,276.66 159.90,276.49 160.40,276.48 160.90,276.60 161.40,276.61 161.90,276.64 162.40,276.56 162.90,276.55 163.40,276.53 163.90,276.59 164.40,276.54 164.90,276.32 165.40,276.40 165.90,276.59 166.40,276.75 166.90,277.06 167.40,277.24 167.90,277.17 168.40,277.29 168.90,277.35 169.40,277.22 169.90,277.31 170.40,277.43 170.90,277.37 171.40,277.42 171.90,277.47 172.40,277.49 172.90,277.52 173.40,277.52 173.90,277.51 174.40,277.35 174.90,277.50 175.40,277.55 175.90,277.40 176.40,277.40 176.90,277.41 177.40,277.48 177.90,277.51 178.40,277.55 178.90,277.65 179.40,277.61 179.90,277.44 180.40,277.39 180.90,277.43 181.40,277.41 181.90,277.51 182.40,277.59 182.90,277.53 183.40,277.57 183.90,277.51 184.40,276.50 184.90,275.43 185.40,274.32 185.90,271.88 186.40,269.28 186.90,266.56 187.40,265.10 187.90,264.17 188.40,263.02 188.90,262.15 189.40,262.06 189.90,261.78 190.40,261.78 190.90,261.78 191.40,261.58 191.90,261.41 192.40,261.38 192.90,261.34 193.40,261.40 193.90,261.49 194.40,261.47 194.90,261.58 195.40,261.60 195.90,261.56 196.40,261.58 196.90,261.54 197.40,261.59 197.90,261.74 198.40,261.75 198.90,261.73 199.40,261.65 199.90,261.56 200.40,261.54 200.90,261.68 201.40,261.77 201.90,261.80 202.40,261.78 202.90,261.69 203.40,261.76 203.90,261.86 204.40,262.10 204.90,262.36 205.40,262.65 205.90,262.95 206.40,263.28 206.90,263.69 207.40,264.16 207.90,264.57 208.40,265.03 208.90,265.41 209.40,265.62 209.90,265.86 210.40,266.10 210.90,266.38 211.40,266.51 211.90,266.71 212.40,267.10 212.90,267.19 213.40,267.08 213.90,267.13 214.40,267.18 214.90,267.35 215.40,267.39 215.90,267.26 216.40,267.32 216.90,267.34 217.40,267.39 217.90,267.46 218.40,267.50 218.90,267.46 219.40,267.57 219.90,267.68 220.40,267.56 220.90,267.52 221.40,267.46 221.90,267.43 222.40,267.48 222.90,267.50 223.40,267.55 223.90,267.56 224.40,266.36 224.90,264.93 225.40,263.32 225.90,260.10 226.40,256.46 226.90,252.79 227.40,250.70 227.90,248.94 228.40,247.11 228.90,245.28 229.40,244.88 229.90,244.60 230.40,244.14 230.90,243.81 231.40,243.80 231.90,243.86 232.40,244.07 232.90,244.35 233.40,244.42 233.90,244.44 234.40,244.54 234.90,244.60 235.40,244.67 235.90,244.74 236.40,244.86 236.90,244.87 237.40,244.99 237.90,245.19 238.40,245.19 238.90,245.27 239.40,245.31 239.90,245.31 240.40,245.43 240.90,245.52 241.40,245.55 241.90,245.59 242.40,245.65 242.90,245.81 243.40,245.79 243.90,245.82 244.40,245.99 244.90,246.08 245.40,246.19 245.90,246.05 246.40,246.43 246.90,247.06 247.40,247.48 247.90,247.88 248.40,249.82 248.90,252.08 249.40,254.39 249.90,256.69 250.40,258.16 250.90,259.33 251.40,260.35 251.90,261.69 252.40,262.24 252.90,262.39 253.40,262.43 253.90,262.59 254.40,262.91 254.90,263.11 255.40,263.26 255.90,263.45 256.40,263.57 256.90,263.72 257.40,263.86 257.90,264.16 258.40,264.39 258.90,264.48 259.40,264.62 259.90,264.80 260.40,264.92 260.90,265.10 261.40,265.38 261.90,265.62 262.40,265.71 262.90,265.76 263.40,266.03" fill="none" stroke="#a99076" stroke-width="1.3" stroke-linejoin="round"/>
<rect x="62.50" y="239.60" width="201.00" height="58.60" fill="none" stroke="#222" stroke-width="0.9"/>
<line x1="62.50" y1="241.20" x2="64.50" y2="241.20" stroke="#222" stroke-width="0.8"/>
<line x1="263.50" y1="241.20" x2="261.50" y2="241.20" stroke="#222" stroke-width="0.8"/>
<text x="59.20" y="244.50" font-size="9.4" text-anchor="end" font-weight="normal" fill="#222" stroke="#222">1.12</text>
<line x1="62.50" y1="258.70" x2="64.50" y2="258.70" stroke="#222" stroke-width="0.8"/>
<line x1="263.50" y1="258.70" x2="261.50" y2="258.70" stroke="#222" stroke-width="0.8"/>
<text x="59.20" y="262.00" font-size="9.4" text-anchor="end" font-weight="normal" fill="#222" stroke="#222">1.08</text>
<line x1="62.50" y1="276.30" x2="64.50" y2="276.30" stroke="#222" stroke-width="0.8"/>
<line x1="263.50" y1="276.30" x2="261.50" y2="276.30" stroke="#222" stroke-width="0.8"/>
<text x="59.20" y="279.60" font-size="9.4" text-anchor="end" font-weight="normal" fill="#222" stroke="#222">1.04</text>
<line x1="62.50" y1="293.90" x2="64.50" y2="293.90" stroke="#222" stroke-width="0.8"/>
<line x1="263.50" y1="293.90" x2="261.50" y2="293.90" stroke="#222" stroke-width="0.8"/>
<text x="59.20" y="297.20" font-size="9.4" text-anchor="end" font-weight="normal" fill="#222" stroke="#222">1</text>
<line x1="62.40" y1="298.20" x2="62.40" y2="296.20" stroke="#222" stroke-width="0.8"/>
<line x1="62.40" y1="239.60" x2="62.40" y2="241.60" stroke="#222" stroke-width="0.8"/>
<line x1="104.48" y1="298.20" x2="104.48" y2="296.20" stroke="#222" stroke-width="0.8"/>
<line x1="104.48" y1="239.60" x2="104.48" y2="241.60" stroke="#222" stroke-width="0.8"/>
<line x1="146.57" y1="298.20" x2="146.57" y2="296.20" stroke="#222" stroke-width="0.8"/>
<line x1="146.57" y1="239.60" x2="146.57" y2="241.60" stroke="#222" stroke-width="0.8"/>
<line x1="188.65" y1="298.20" x2="188.65" y2="296.20" stroke="#222" stroke-width="0.8"/>
<line x1="188.65" y1="239.60" x2="188.65" y2="241.60" stroke="#222" stroke-width="0.8"/>
<line x1="230.73" y1="298.20" x2="230.73" y2="296.20" stroke="#222" stroke-width="0.8"/>
<line x1="230.73" y1="239.60" x2="230.73" y2="241.60" stroke="#222" stroke-width="0.8"/>
<text x="163.00" y="234.90" font-size="9.3" text-anchor="middle" font-weight="normal" fill="#222" stroke="#222">(i) Nanopaper</text>
<text x="10.50" y="268.90" font-size="9.1" text-anchor="middle" font-weight="normal" fill="#222" stroke="#222" transform="rotate(-90 10.5 268.9)">Relative</text>
<text x="22.00" y="268.90" font-size="9.1" text-anchor="middle" font-weight="normal" fill="#222" stroke="#222" transform="rotate(-90 22.0 268.9)">resistance</text>
<text x="33.30" y="268.90" font-size="9.1" text-anchor="middle" font-weight="normal" fill="#222" stroke="#222" transform="rotate(-90 33.3 268.9)">(-)</text>
<rect x="102.20" y="312.40" width="23.90" height="58.30" fill="#dcfbfb" stroke="none" stroke-width="1"/>
<rect x="143.50" y="312.40" width="24.30" height="58.30" fill="#b3f2f5" stroke="none" stroke-width="1"/>
<rect x="184.30" y="312.40" width="24.70" height="58.30" fill="#b3cbfa" stroke="none" stroke-width="1"/>
<rect x="224.30" y="312.40" width="25.40" height="58.30" fill="#9b9bf9" stroke="none" stroke-width="1"/>
<polyline points="62.40,352.00 62.90,357.00 63.40,361.50 63.90,365.25 64.40,367.08 64.90,368.43 65.40,368.42 65.90,368.07 66.40,367.72 66.90,367.37 67.40,367.19 67.90,367.09 68.40,366.97 68.90,366.76 69.40,366.64 69.90,366.52 70.40,366.45 70.90,366.54 71.40,366.48 71.90,366.40 72.40,366.38 72.90,366.35 73.40,366.40 73.90,366.34 74.40,366.29 74.90,366.32 75.40,366.29 75.90,366.21 76.40,366.15 76.90,366.20 77.40,366.25 77.90,366.38 78.40,366.24 78.90,366.09 79.40,366.25 79.90,366.31 80.40,366.30 80.90,366.15 81.40,366.11 81.90,366.18 82.40,366.14 82.90,366.14 83.40,366.03 83.90,366.07 84.40,366.26 84.90,366.12 85.40,366.05 85.90,366.06 86.40,365.96 86.90,365.95 87.40,366.04 87.90,366.00 88.40,365.90 88.90,365.91 89.40,365.94 89.90,366.01 90.40,365.93 90.90,365.87 91.40,365.90 91.90,365.74 92.40,365.69 92.90,365.78 93.40,365.79 93.90,365.80 94.40,365.67 94.90,365.63 95.40,365.70 95.90,365.60 96.40,365.65 96.90,365.77 97.40,365.68 97.90,365.67 98.40,365.68 98.90,365.61 99.40,365.56 99.90,365.63 100.40,365.53 100.90,365.42 101.40,365.61 101.90,365.48 102.40,365.42 102.90,365.53 103.40,365.58 103.90,365.65 104.40,365.56 104.90,365.39 105.40,365.49 105.90,365.64 106.40,365.52 106.90,365.46 107.40,365.50 107.90,365.50 108.40,365.48 108.90,365.52 109.40,365.39 109.90,365.36 110.40,365.48 110.90,365.39 111.40,365.43 111.90,365.29 112.40,365.28 112.90,365.43 113.40,365.29 113.90,365.28 114.40,365.32 114.90,365.44 115.40,365.56 115.90,365.42 116.40,365.26 116.90,365.18 117.40,365.20 117.90,365.19 118.40,365.14 118.90,365.13 119.40,365.16 119.90,365.15 120.40,365.12 120.90,365.08 121.40,365.27 121.90,365.23 122.40,365.00 122.90,365.11 123.40,365.14 123.90,365.13 124.40,365.19 124.90,365.23 125.40,365.21 125.90,365.07 126.40,365.08 126.90,365.02 127.40,364.94 127.90,365.01 128.40,364.94 128.90,364.99 129.40,365.04 129.90,365.05 130.40,364.96 130.90,364.94 131.40,365.05 131.90,365.00 132.40,364.87 132.90,364.84 133.40,364.82 133.90,364.70 134.40,364.98 134.90,365.16 135.40,365.06 135.90,364.96 136.40,364.89 136.90,364.95 137.40,364.93 137.90,364.88 138.40,364.82 138.90,364.68 139.40,364.72 139.90,364.86 140.40,364.86 140.90,364.78 141.40,364.78 141.90,364.73 142.40,364.51 142.90,364.55 143.40,364.56 143.90,364.38 144.40,364.38 144.90,364.46 145.40,364.32 145.90,364.12 146.40,364.17 146.90,364.01 147.40,363.68 147.90,363.33 148.40,363.08 148.90,363.06 149.40,362.84 149.90,362.56 150.40,362.53 150.90,362.51 151.40,362.41 151.90,362.44 152.40,362.51 152.90,362.41 153.40,362.25 153.90,362.21 154.40,362.24 154.90,362.20 155.40,362.01 155.90,361.90 156.40,361.96 156.90,361.97 157.40,361.95 157.90,361.91 158.40,361.74 158.90,361.60 159.40,361.54 159.90,361.64 160.40,361.73 160.90,361.67 161.40,361.73 161.90,361.69 162.40,361.58 162.90,361.58 163.40,361.66 163.90,361.79 164.40,361.86 164.90,361.72 165.40,361.72 165.90,361.84 166.40,361.75 166.90,361.71 167.40,361.68 167.90,361.72 168.40,361.82 168.90,361.74 169.40,361.73 169.90,361.84 170.40,361.86 170.90,361.88 171.40,361.96 171.90,361.90 172.40,361.86 172.90,362.05 173.40,362.09 173.90,361.93 174.40,361.94 174.90,361.92 175.40,362.01 175.90,362.15 176.40,362.18 176.90,362.25 177.40,362.24 177.90,362.28 178.40,362.30 178.90,362.23 179.40,362.19 179.90,362.24 180.40,362.18 180.90,362.35 181.40,362.43 181.90,362.35 182.40,362.41 182.90,362.33 183.40,362.43 183.90,362.57 184.40,361.88 184.90,361.06 185.40,360.17 185.90,358.92 186.40,357.65 186.90,356.28 187.40,355.64 187.90,355.30 188.40,354.92 188.90,354.49 189.40,353.95 189.90,353.54 190.40,353.61 190.90,353.59 191.40,353.57 191.90,353.68 192.40,353.65 192.90,353.56 193.40,353.49 193.90,353.39 194.40,353.39 194.90,353.37 195.40,353.38 195.90,353.37 196.40,353.35 196.90,353.31 197.40,353.20 197.90,353.23 198.40,353.26 198.90,353.24 199.40,353.26 199.90,353.26 200.40,353.34 200.90,353.43 201.40,353.40 201.90,353.28 202.40,353.31 202.90,353.23 203.40,353.00 203.90,353.10 204.40,353.46 204.90,353.73 205.40,354.03 205.90,354.24 206.40,354.47 206.90,354.94 207.40,355.43 207.90,355.68 208.40,356.10 208.90,356.45 209.40,356.66 209.90,357.11 210.40,357.14 210.90,357.09 211.40,357.14 211.90,357.14 212.40,357.19 212.90,357.25 213.40,357.12 213.90,357.04 214.40,357.11 214.90,357.14 215.40,357.07 215.90,357.09 216.40,357.18 216.90,357.11 217.40,357.10 217.90,357.04 218.40,356.89 218.90,357.01 219.40,357.05 219.90,356.95 220.40,356.98 220.90,356.99 221.40,357.02 221.90,356.96 222.40,356.91 222.90,357.18 223.40,357.20 223.90,356.89 224.40,354.12 224.90,350.77 225.40,346.12 225.90,341.09 226.40,335.97 226.90,332.91 227.40,330.33 227.90,327.47 228.40,326.71 228.90,326.52 229.40,326.26 229.90,325.97 230.40,325.66 230.90,325.42 231.40,325.33 231.90,325.29 232.40,325.21 232.90,325.19 233.40,325.23 233.90,325.23 234.40,325.26 234.90,325.24 235.40,325.16 235.90,325.24 236.40,325.18 236.90,325.06 237.40,325.00 237.90,324.94 238.40,325.06 238.90,325.05 239.40,325.01 239.90,324.91 240.40,324.71 240.90,324.77 241.40,324.75 241.90,324.87 242.40,325.00 242.90,324.74 243.40,324.64 243.90,324.65 244.40,324.67 244.90,324.67 245.40,324.68 245.90,324.75 246.40,326.11 246.90,327.76 247.40,329.60 247.90,333.22 248.40,337.26 248.90,341.26 249.40,343.24 249.90,344.77 250.40,346.21 250.90,347.66 251.40,348.18 251.90,348.55 252.40,348.76 252.90,348.80 253.40,348.99 253.90,349.21 254.40,349.29 254.90,349.50 255.40,349.69 255.90,349.63 256.40,349.45 256.90,349.47 257.40,349.62 257.90,349.63 258.40,349.56 258.90,349.61 259.40,349.63 259.90,349.51 260.40,349.37 260.90,349.31 261.40,349.30 261.90,349.32 262.40,349.25 262.90,349.26 263.40,349.30" fill="none" stroke="#f0923c" stroke-width="1.3" stroke-linejoin="round"/>
<rect x="62.50" y="312.40" width="201.00" height="58.30" fill="none" stroke="#222" stroke-width="0.9"/>
<line x1="62.50" y1="312.40" x2="64.50" y2="312.40" stroke="#222" stroke-width="0.8"/>
<line x1="263.50" y1="312.40" x2="261.50" y2="312.40" stroke="#222" stroke-width="0.8"/>
<text x="59.20" y="315.70" font-size="9.4" text-anchor="end" font-weight="normal" fill="#222" stroke="#222">1.12</text>
<line x1="62.50" y1="330.20" x2="64.50" y2="330.20" stroke="#222" stroke-width="0.8"/>
<line x1="263.50" y1="330.20" x2="261.50" y2="330.20" stroke="#222" stroke-width="0.8"/>
<text x="59.20" y="333.50" font-size="9.4" text-anchor="end" font-weight="normal" fill="#222" stroke="#222">1.08</text>
<line x1="62.50" y1="348.10" x2="64.50" y2="348.10" stroke="#222" stroke-width="0.8"/>
<line x1="263.50" y1="348.10" x2="261.50" y2="348.10" stroke="#222" stroke-width="0.8"/>
<text x="59.20" y="351.40" font-size="9.4" text-anchor="end" font-weight="normal" fill="#222" stroke="#222">1.04</text>
<line x1="62.50" y1="365.90" x2="64.50" y2="365.90" stroke="#222" stroke-width="0.8"/>
<line x1="263.50" y1="365.90" x2="261.50" y2="365.90" stroke="#222" stroke-width="0.8"/>
<text x="59.20" y="369.20" font-size="9.4" text-anchor="end" font-weight="normal" fill="#222" stroke="#222">1</text>
<line x1="62.40" y1="370.70" x2="62.40" y2="368.70" stroke="#222" stroke-width="0.8"/>
<line x1="62.40" y1="312.40" x2="62.40" y2="314.40" stroke="#222" stroke-width="0.8"/>
<line x1="104.48" y1="370.70" x2="104.48" y2="368.70" stroke="#222" stroke-width="0.8"/>
<line x1="104.48" y1="312.40" x2="104.48" y2="314.40" stroke="#222" stroke-width="0.8"/>
<line x1="146.57" y1="370.70" x2="146.57" y2="368.70" stroke="#222" stroke-width="0.8"/>
<line x1="146.57" y1="312.40" x2="146.57" y2="314.40" stroke="#222" stroke-width="0.8"/>
<line x1="188.65" y1="370.70" x2="188.65" y2="368.70" stroke="#222" stroke-width="0.8"/>
<line x1="188.65" y1="312.40" x2="188.65" y2="314.40" stroke="#222" stroke-width="0.8"/>
<line x1="230.73" y1="370.70" x2="230.73" y2="368.70" stroke="#222" stroke-width="0.8"/>
<line x1="230.73" y1="312.40" x2="230.73" y2="314.40" stroke="#222" stroke-width="0.8"/>
<text x="163.00" y="307.70" font-size="9.3" text-anchor="middle" font-weight="normal" fill="#222" stroke="#222">(ii) PE paper</text>
<text x="10.50" y="341.55" font-size="9.1" text-anchor="middle" font-weight="normal" fill="#222" stroke="#222" transform="rotate(-90 10.5 341.54999999999995)">Relative</text>
<text x="22.00" y="341.55" font-size="9.1" text-anchor="middle" font-weight="normal" fill="#222" stroke="#222" transform="rotate(-90 22.0 341.54999999999995)">resistance</text>
<text x="33.30" y="341.55" font-size="9.1" text-anchor="middle" font-weight="normal" fill="#222" stroke="#222" transform="rotate(-90 33.3 341.54999999999995)">(-)</text>
<rect x="102.20" y="385.50" width="23.90" height="53.60" fill="#dcfbfb" stroke="none" stroke-width="1"/>
<rect x="143.50" y="385.50" width="24.30" height="53.60" fill="#b3f2f5" stroke="none" stroke-width="1"/>
<rect x="184.30" y="385.50" width="24.70" height="53.60" fill="#b3cbfa" stroke="none" stroke-width="1"/>
<rect x="224.30" y="385.50" width="25.40" height="53.60" fill="#9b9bf9" stroke="none" stroke-width="1"/>
<polyline points="62.40,386.00 62.90,396.00 63.40,404.80 63.90,413.30 64.40,419.50 64.90,424.63 65.40,427.75 65.90,428.62 66.40,428.00 66.90,421.33 67.40,416.50 67.90,412.81 68.40,412.20 68.90,411.75 69.40,411.69 69.90,411.04 70.40,410.71 70.90,410.40 71.40,410.87 71.90,411.12 72.40,410.34 72.90,410.78 73.40,411.44 73.90,411.40 74.40,410.50 74.90,410.14 75.40,411.07 75.90,411.17 76.40,410.94 76.90,411.00 77.40,411.20 77.90,412.13 78.40,411.58 78.90,410.70 79.40,410.94 79.90,410.63 80.40,410.73 80.90,411.09 81.40,411.77 81.90,412.22 82.40,411.00 82.90,411.31 83.40,411.90 83.90,410.93 84.40,410.78 84.90,410.99 85.40,411.04 85.90,411.58 86.40,410.80 86.90,410.53 87.40,411.35 87.90,411.74 88.40,411.74 88.90,411.88 89.40,412.13 89.90,411.19 90.40,410.90 90.90,410.45 91.40,409.80 91.90,409.50 92.40,410.13 92.90,411.48 93.40,410.95 93.90,411.07 94.40,410.77 94.90,409.98 95.40,410.23 95.90,409.99 96.40,410.25 96.90,411.69 97.40,411.18 97.90,410.29 98.40,410.88 98.90,411.38 99.40,411.58 99.90,411.28 100.40,411.24 100.90,410.75 101.40,410.24 101.90,410.56 102.40,410.47 102.90,410.27 103.40,411.11 103.90,410.68 104.40,410.51 104.90,410.85 105.40,410.90 105.90,409.98 106.40,409.06 106.90,408.91 107.40,409.91 107.90,410.01 108.40,409.62 108.90,409.90 109.40,409.98 109.90,409.89 110.40,410.10 110.90,409.40 111.40,409.02 111.90,410.15 112.40,410.30 112.90,409.20 113.40,408.54 113.90,409.04 114.40,409.31 114.90,408.76 115.40,407.98 115.90,407.63 116.40,407.73 116.90,408.42 117.40,407.38 117.90,407.02 118.40,406.93 118.90,407.52 119.40,407.30 119.90,406.84 120.40,407.44 120.90,407.24 121.40,406.59 121.90,406.77 122.40,406.56 122.90,406.18 123.40,406.13 123.90,405.22 124.40,405.71 124.90,406.02 125.40,405.59 125.90,405.53 126.40,405.36 126.90,404.95 127.40,404.97 127.90,405.81 128.40,406.61 128.90,405.75 129.40,405.96 129.90,406.15 130.40,405.82 130.90,406.09 131.40,405.96 131.90,405.46 132.40,405.25 132.90,405.71 133.40,405.79 133.90,406.00 134.40,405.61 134.90,405.60 135.40,405.61 135.90,405.03 136.40,404.94 136.90,405.24 137.40,404.58 137.90,404.85 138.40,404.55 138.90,404.12 139.40,404.65 139.90,404.55 140.40,403.70 140.90,403.23 141.40,403.39 141.90,403.83 142.40,403.48 142.90,402.85 143.40,402.81 143.90,401.90 144.40,402.69 144.90,402.72 145.40,401.02 145.90,401.59 146.40,401.77 146.90,400.74 147.40,401.59 147.90,400.78 148.40,399.88 148.90,399.65 149.40,399.76 149.90,399.45 150.40,399.25 150.90,399.89 151.40,400.77 151.90,401.11 152.40,401.67 152.90,401.60 153.40,400.93 153.90,400.73 154.40,400.23 154.90,399.99 155.40,400.89 155.90,401.52 156.40,402.26 156.90,402.34 157.40,401.79 157.90,401.60 158.40,401.92 158.90,402.94 159.40,403.26 159.90,403.06 160.40,403.92 160.90,404.83 161.40,403.97 161.90,402.93 162.40,403.05 162.90,403.54 163.40,403.70 163.90,404.26 164.40,404.77 164.90,405.62 165.40,405.68 165.90,405.01 166.40,404.71 166.90,404.83 167.40,404.42 167.90,405.48 168.40,405.57 168.90,405.65 169.40,405.90 169.90,405.47 170.40,405.79 170.90,405.63 171.40,405.18 171.90,405.10 172.40,404.52 172.90,404.69 173.40,404.60 173.90,405.26 174.40,405.12 174.90,404.83 175.40,403.80 175.90,403.15 176.40,403.86 176.90,403.28 177.40,403.30 177.90,403.48 178.40,402.67 178.90,402.47 179.40,403.54 179.90,403.00 180.40,402.02 180.90,401.76 181.40,401.84 181.90,401.17 182.40,401.60 182.90,403.29 183.40,404.02 183.90,403.77 184.40,403.99 184.90,404.60 185.40,404.44 185.90,404.91 186.40,405.40 186.90,405.18 187.40,405.88 187.90,405.25 188.40,405.08 188.90,406.82 189.40,406.94 189.90,407.41 190.40,408.28 190.90,408.65 191.40,410.39 191.90,412.08 192.40,411.41 192.90,411.99 193.40,412.16 193.90,412.62 194.40,412.60 194.90,413.38 195.40,413.09 195.90,412.67 196.40,413.60 196.90,413.08 197.40,413.99 197.90,414.33 198.40,414.77 198.90,415.09 199.40,414.60 199.90,414.05 200.40,414.15 200.90,413.37 201.40,413.22 201.90,413.33 202.40,413.13 202.90,413.46 203.40,413.36 203.90,412.42 204.40,412.72 204.90,413.85 205.40,413.02 205.90,411.88 206.40,412.20 206.90,412.50 207.40,413.40 207.90,412.83 208.40,412.22 208.90,412.39 209.40,412.26 209.90,412.14 210.40,412.65 210.90,413.04 211.40,413.61 211.90,414.66 212.40,413.73 212.90,412.92 213.40,413.26 213.90,414.52 214.40,414.74 214.90,413.29 215.40,413.65 215.90,414.51 216.40,414.10 216.90,414.58 217.40,414.93 217.90,414.47 218.40,413.91 218.90,413.78 219.40,413.66 219.90,412.66 220.40,412.68 220.90,412.58 221.40,412.19 221.90,412.02 222.40,412.66 222.90,413.16 223.40,412.61 223.90,412.86 224.40,411.86 224.90,410.58 225.40,410.78 225.90,412.23 226.40,412.36 226.90,412.26 227.40,412.38 227.90,411.57 228.40,411.34 228.90,412.36 229.40,412.06 229.90,410.44 230.40,410.97 230.90,411.65 231.40,411.92 231.90,411.99 232.40,411.68 232.90,411.19 233.40,411.65 233.90,413.28 234.40,413.38 234.90,412.26 235.40,411.64 235.90,410.93 236.40,410.82 236.90,412.00 237.40,411.74 237.90,411.71 238.40,411.94 238.90,412.46 239.40,412.67 239.90,411.97 240.40,411.18 240.90,410.70 241.40,411.18 241.90,411.80 242.40,411.80 242.90,411.95 243.40,411.65 243.90,410.72 244.40,411.03 244.90,411.03 245.40,410.92 245.90,410.97 246.40,411.32 246.90,411.19 247.40,411.14 247.90,411.24 248.40,411.38 248.90,410.73 249.40,410.14 249.90,410.41 250.40,410.51 250.90,411.32 251.40,411.05 251.90,410.35 252.40,410.72 252.90,411.43 253.40,411.14 253.90,411.16 254.40,411.23 254.90,411.06 255.40,411.24 255.90,411.60 256.40,411.66 256.90,411.05 257.40,411.40 257.90,411.16 258.40,410.08 258.90,409.96 259.40,410.97 259.90,411.50 260.40,412.21 260.90,411.92 261.40,411.12 261.90,410.34 262.40,410.38 262.90,410.93 263.40,411.19" fill="none" stroke="#000" stroke-width="1.6" stroke-linejoin="round"/>
<rect x="62.50" y="385.50" width="201.00" height="53.60" fill="none" stroke="#222" stroke-width="0.9"/>
<line x1="62.50" y1="385.50" x2="64.50" y2="385.50" stroke="#222" stroke-width="0.8"/>
<line x1="263.50" y1="385.50" x2="261.50" y2="385.50" stroke="#222" stroke-width="0.8"/>
<text x="59.20" y="388.80" font-size="9.4" text-anchor="end" font-weight="normal" fill="#222" stroke="#222">1.01</text>
<line x1="62.50" y1="398.90" x2="64.50" y2="398.90" stroke="#222" stroke-width="0.8"/>
<line x1="263.50" y1="398.90" x2="261.50" y2="398.90" stroke="#222" stroke-width="0.8"/>
<text x="59.20" y="402.20" font-size="9.4" text-anchor="end" font-weight="normal" fill="#222" stroke="#222">1.005</text>
<line x1="62.50" y1="412.30" x2="64.50" y2="412.30" stroke="#222" stroke-width="0.8"/>
<line x1="263.50" y1="412.30" x2="261.50" y2="412.30" stroke="#222" stroke-width="0.8"/>
<text x="59.20" y="415.60" font-size="9.4" text-anchor="end" font-weight="normal" fill="#222" stroke="#222">1</text>
<line x1="62.50" y1="425.70" x2="64.50" y2="425.70" stroke="#222" stroke-width="0.8"/>
<line x1="263.50" y1="425.70" x2="261.50" y2="425.70" stroke="#222" stroke-width="0.8"/>
<text x="59.20" y="429.00" font-size="9.4" text-anchor="end" font-weight="normal" fill="#222" stroke="#222">0.995</text>
<line x1="62.50" y1="439.10" x2="64.50" y2="439.10" stroke="#222" stroke-width="0.8"/>
<line x1="263.50" y1="439.10" x2="261.50" y2="439.10" stroke="#222" stroke-width="0.8"/>
<text x="59.20" y="442.40" font-size="9.4" text-anchor="end" font-weight="normal" fill="#222" stroke="#222">0.99</text>
<line x1="62.40" y1="439.10" x2="62.40" y2="437.10" stroke="#222" stroke-width="0.8"/>
<line x1="62.40" y1="385.50" x2="62.40" y2="387.50" stroke="#222" stroke-width="0.8"/>
<line x1="104.48" y1="439.10" x2="104.48" y2="437.10" stroke="#222" stroke-width="0.8"/>
<line x1="104.48" y1="385.50" x2="104.48" y2="387.50" stroke="#222" stroke-width="0.8"/>
<line x1="146.57" y1="439.10" x2="146.57" y2="437.10" stroke="#222" stroke-width="0.8"/>
<line x1="146.57" y1="385.50" x2="146.57" y2="387.50" stroke="#222" stroke-width="0.8"/>
<line x1="188.65" y1="439.10" x2="188.65" y2="437.10" stroke="#222" stroke-width="0.8"/>
<line x1="188.65" y1="385.50" x2="188.65" y2="387.50" stroke="#222" stroke-width="0.8"/>
<line x1="230.73" y1="439.10" x2="230.73" y2="437.10" stroke="#222" stroke-width="0.8"/>
<line x1="230.73" y1="385.50" x2="230.73" y2="387.50" stroke="#222" stroke-width="0.8"/>
<text x="163.00" y="380.80" font-size="9.3" text-anchor="middle" font-weight="normal" fill="#222" stroke="#222">(iii) PHBH-50%cellulose</text>
<text x="10.50" y="412.30" font-size="9.1" text-anchor="middle" font-weight="normal" fill="#222" stroke="#222" transform="rotate(-90 10.5 412.3)">Relative</text>
<text x="22.00" y="412.30" font-size="9.1" text-anchor="middle" font-weight="normal" fill="#222" stroke="#222" transform="rotate(-90 22.0 412.3)">resistance</text>
<text x="33.30" y="412.30" font-size="9.1" text-anchor="middle" font-weight="normal" fill="#222" stroke="#222" transform="rotate(-90 33.3 412.3)">(-)</text>
<rect x="102.20" y="453.80" width="23.90" height="58.20" fill="#dcfbfb" stroke="none" stroke-width="1"/>
<rect x="143.50" y="453.80" width="24.30" height="58.20" fill="#b3f2f5" stroke="none" stroke-width="1"/>
<rect x="184.30" y="453.80" width="24.70" height="58.20" fill="#b3cbfa" stroke="none" stroke-width="1"/>
<rect x="224.30" y="453.80" width="25.40" height="58.20" fill="#9b9bf9" stroke="none" stroke-width="1"/>
<polyline points="62.40,456.00 62.75,464.17 63.10,472.50 63.45,481.25 63.80,490.00 64.15,492.63 64.50,495.25 64.85,494.75 65.20,493.00 65.55,490.69 65.90,487.62 66.25,484.81 66.60,483.50 66.95,482.19 67.30,482.00 67.65,482.01 68.00,481.78 68.35,482.38 68.70,482.28 69.05,482.08 69.40,481.42 69.75,482.02 70.10,482.12 70.45,480.84 70.80,484.38 71.15,482.35 71.50,483.60 71.85,480.85 72.20,483.53 72.55,480.42 72.90,481.13 73.25,482.44 73.60,481.75 73.95,479.31 74.30,480.60 74.65,482.63 75.00,483.95 75.35,482.81 75.70,481.47 76.05,482.54 76.40,480.59 76.75,482.03 77.10,480.08 77.45,481.36 77.80,481.38 78.15,482.25 78.50,481.12 78.85,482.60 79.20,481.04 79.55,482.16 79.90,482.27 80.25,479.61 80.60,481.50 80.95,481.58 81.30,480.93 81.65,481.89 82.00,480.42 82.35,482.46 82.70,482.32 83.05,482.05 83.40,484.34 83.75,482.14 84.10,481.92 84.45,481.06 84.80,482.41 85.15,481.28 85.50,483.33 85.85,481.41 86.20,482.04 86.55,483.93 86.90,483.22 87.25,482.19 87.60,483.36 87.95,481.94 88.30,482.74 88.65,481.92 89.00,481.07 89.35,482.33 89.70,482.88 90.05,481.59 90.40,480.76 90.75,481.39 91.10,479.65 91.45,481.49 91.80,480.98 92.15,484.13 92.50,481.54 92.85,480.74 93.20,482.91 93.55,481.70 93.90,482.11 94.25,482.18 94.60,482.41 94.95,481.94 95.30,483.25 95.65,482.93 96.00,481.84 96.35,482.10 96.70,481.22 97.05,482.52 97.40,482.84 97.75,482.87 98.10,482.80 98.45,481.95 98.80,483.37 99.15,481.57 99.50,481.62 99.85,481.01 100.20,481.23 100.55,480.90 100.90,483.24 101.25,481.55 101.60,479.62 101.95,481.10 102.30,480.21 102.65,482.46 103.00,482.82 103.35,480.86 103.70,481.86 104.05,480.99 104.40,481.66 104.75,483.19 105.10,481.08 105.45,480.24 105.80,482.18 106.15,481.77 106.50,481.94 106.85,482.38 107.20,480.88 107.55,479.61 107.90,482.59 108.25,481.37 108.60,480.81 108.95,480.73 109.30,482.92 109.65,481.96 110.00,482.02 110.35,482.46 110.70,480.85 111.05,480.50 111.40,480.84 111.75,480.65 112.10,481.37 112.45,480.79 112.80,481.67 113.15,481.08 113.50,481.56 113.85,482.26 114.20,483.09 114.55,483.38 114.90,481.80 115.25,481.91 115.60,481.12 115.95,482.47 116.30,482.99 116.65,481.03 117.00,482.30 117.35,481.19 117.70,481.28 118.05,481.57 118.40,480.86 118.75,482.14 119.10,479.69 119.45,480.53 119.80,480.79 120.15,479.88 120.50,481.36 120.85,479.54 121.20,481.05 121.55,479.38 121.90,480.52 122.25,481.15 122.60,482.82 122.95,481.48 123.30,482.00 123.65,480.40 124.00,482.39 124.35,480.01 124.70,480.06 125.05,478.78 125.40,480.08 125.75,481.06 126.10,479.40 126.45,479.64 126.80,479.52 127.15,479.58 127.50,479.21 127.85,478.32 128.20,481.28 128.55,477.89 128.90,478.84 129.25,479.95 129.60,480.74 129.95,479.45 130.30,479.49 130.65,479.79 131.00,479.54 131.35,480.79 131.70,479.41 132.05,478.93 132.40,479.44 132.75,479.97 133.10,481.12 133.45,481.56 133.80,479.59 134.15,478.55 134.50,478.62 134.85,482.22 135.20,479.84 135.55,480.70 135.90,482.20 136.25,479.51 136.60,480.08 136.95,479.79 137.30,479.35 137.65,481.32 138.00,481.43 138.35,478.53 138.70,481.38 139.05,480.28 139.40,480.64 139.75,480.77 140.10,479.40 140.45,480.39 140.80,479.77 141.15,482.74 141.50,482.93 141.85,480.91 142.20,479.82 142.55,481.99 142.90,480.60 143.25,482.35 143.60,482.51 143.95,482.27 144.30,480.18 144.65,479.67 145.00,479.97 145.35,480.29 145.70,479.48 146.05,481.74 146.40,481.43 146.75,480.82 147.10,480.48 147.45,481.50 147.80,482.33 148.15,479.08 148.50,481.25 148.85,480.77 149.20,480.44 149.55,481.03 149.90,481.54 150.25,483.33 150.60,481.52 150.95,481.15 151.30,480.36 151.65,482.49 152.00,480.90 152.35,481.30 152.70,482.24 153.05,481.52 153.40,481.08 153.75,481.34 154.10,482.38 154.45,481.32 154.80,481.33 155.15,481.54 155.50,480.76 155.85,481.19 156.20,480.70 156.55,482.05 156.90,481.44 157.25,479.20 157.60,480.78 157.95,481.94 158.30,480.77 158.65,480.55 159.00,481.92 159.35,479.84 159.70,481.08 160.05,481.50 160.40,481.87 160.75,480.21 161.10,480.09 161.45,482.96 161.80,480.63 162.15,481.44 162.50,483.96 162.85,480.92 163.20,479.32 163.55,484.21 163.90,482.60 164.25,482.17 164.60,484.52 164.95,481.67 165.30,483.15 165.65,481.78 166.00,481.31 166.35,482.33 166.70,482.52 167.05,482.68 167.40,482.63 167.75,480.99 168.10,481.36 168.45,483.62 168.80,482.38 169.15,481.83 169.50,482.92 169.85,482.95 170.20,482.91 170.55,481.17 170.90,481.51 171.25,482.94 171.60,483.50 171.95,481.27 172.30,481.94 172.65,482.14 173.00,483.55 173.35,481.55 173.70,485.46 174.05,482.79 174.40,483.37 174.75,484.91 175.10,483.33 175.45,483.64 175.80,482.84 176.15,483.46 176.50,482.07 176.85,483.04 177.20,483.15 177.55,482.22 177.90,484.39 178.25,483.92 178.60,481.72 178.95,484.35 179.30,482.59 179.65,484.11 180.00,482.78 180.35,483.22 180.70,484.04 181.05,485.67 181.40,482.17 181.75,483.32 182.10,483.41 182.45,485.12 182.80,484.06 183.15,485.07 183.50,486.09 183.85,485.60 184.20,484.43 184.55,484.53 184.90,484.75 185.25,485.26 185.60,484.37 185.95,485.30 186.30,485.97 186.65,485.11 187.00,485.23 187.35,486.17 187.70,486.81 188.05,484.70 188.40,485.15 188.75,487.62 189.10,486.51 189.45,485.58 189.80,486.80 190.15,488.61 190.50,486.59 190.85,486.35 191.20,487.33 191.55,489.33 191.90,487.54 192.25,489.12 192.60,490.01 192.95,490.05 193.30,489.52 193.65,490.73 194.00,490.57 194.35,491.48 194.70,491.53 195.05,491.49 195.40,489.85 195.75,492.53 196.10,492.08 196.45,490.49 196.80,492.86 197.15,493.44 197.50,493.23 197.85,491.27 198.20,493.28 198.55,493.21 198.90,494.13 199.25,492.59 199.60,495.47 199.95,496.07 200.30,496.35 200.65,495.67 201.00,495.61 201.35,496.73 201.70,496.20 202.05,495.40 202.40,496.16 202.75,496.65 203.10,497.13 203.45,496.45 203.80,495.55 204.15,495.88 204.50,496.71 204.85,496.68 205.20,497.33 205.55,494.53 205.90,495.95 206.25,495.43 206.60,497.79 206.95,497.45 207.30,497.17 207.65,497.55 208.00,496.12 208.35,497.17 208.70,496.66 209.05,496.98 209.40,496.89 209.75,497.95 210.10,498.18 210.45,495.78 210.80,496.59 211.15,497.22 211.50,497.67 211.85,495.70 212.20,496.14 212.55,496.67 212.90,498.61 213.25,496.06 213.60,496.68 213.95,496.96 214.30,496.74 214.65,496.97 215.00,496.68 215.35,496.40 215.70,496.87 216.05,497.19 216.40,497.58 216.75,497.69 217.10,496.17 217.45,497.35 217.80,497.24 218.15,498.05 218.50,497.80 218.85,498.84 219.20,496.69 219.55,497.28 219.90,497.60 220.25,496.49 220.60,496.77 220.95,496.54 221.30,496.33 221.65,498.93 222.00,496.49 222.35,498.04 222.70,495.59 223.05,496.52 223.40,495.55 223.75,496.81 224.10,498.01 224.45,498.07 224.80,496.48 225.15,495.93 225.50,495.21 225.85,495.61 226.20,496.59 226.55,493.69 226.90,495.23 227.25,494.50 227.60,496.42 227.95,494.42 228.30,496.52 228.65,494.53 229.00,494.50 229.35,497.18 229.70,496.78 230.05,495.09 230.40,494.17 230.75,494.96 231.10,496.71 231.45,496.30 231.80,495.40 232.15,496.57 232.50,497.31 232.85,494.81 233.20,496.03 233.55,495.34 233.90,497.24 234.25,496.09 234.60,495.36 234.95,494.30 235.30,496.52 235.65,495.59 236.00,496.12 236.35,495.74 236.70,496.46 237.05,494.53 237.40,495.56 237.75,496.76 238.10,498.35 238.45,496.77 238.80,496.50 239.15,496.01 239.50,495.88 239.85,496.25 240.20,495.87 240.55,496.90 240.90,496.83 241.25,498.65 241.60,496.67 241.95,497.91 242.30,496.33 242.65,497.98 243.00,499.46 243.35,496.60 243.70,496.01 244.05,498.21 244.40,497.23 244.75,496.98 245.10,497.73 245.45,497.57 245.80,498.71 246.15,497.94 246.50,496.95 246.85,496.52 247.20,495.87 247.55,496.52 247.90,498.82 248.25,496.58 248.60,498.02 248.95,499.32 249.30,498.79 249.65,499.90 250.00,499.12 250.35,499.96 250.70,498.03 251.05,497.93 251.40,500.79 251.75,499.27 252.10,499.20 252.45,498.60 252.80,500.79 253.15,499.70 253.50,499.71 253.85,498.72 254.20,499.48 254.55,498.94 254.90,499.24 255.25,499.76 255.60,499.23 255.95,499.04 256.30,500.64 256.65,498.95 257.00,501.52 257.35,501.63 257.70,499.02 258.05,502.03 258.40,499.67 258.75,502.08 259.10,500.33 259.45,501.46 259.80,499.88 260.15,501.49 260.50,500.71 260.85,502.04 261.20,500.99 261.55,499.24 261.90,500.27 262.25,499.00 262.60,499.57 262.95,500.75 263.30,500.64" fill="none" stroke="#a8a8a8" stroke-width="1.25" stroke-linejoin="round"/>
<rect x="62.50" y="453.80" width="201.00" height="58.20" fill="none" stroke="#222" stroke-width="0.9"/>
<line x1="62.50" y1="453.80" x2="64.50" y2="453.80" stroke="#222" stroke-width="0.8"/>
<line x1="263.50" y1="453.80" x2="261.50" y2="453.80" stroke="#222" stroke-width="0.8"/>
<text x="59.20" y="457.10" font-size="9.4" text-anchor="end" font-weight="normal" fill="#222" stroke="#222">1.01</text>
<line x1="62.50" y1="468.35" x2="64.50" y2="468.35" stroke="#222" stroke-width="0.8"/>
<line x1="263.50" y1="468.35" x2="261.50" y2="468.35" stroke="#222" stroke-width="0.8"/>
<text x="59.20" y="471.65" font-size="9.4" text-anchor="end" font-weight="normal" fill="#222" stroke="#222">1.005</text>
<line x1="62.50" y1="482.90" x2="64.50" y2="482.90" stroke="#222" stroke-width="0.8"/>
<line x1="263.50" y1="482.90" x2="261.50" y2="482.90" stroke="#222" stroke-width="0.8"/>
<text x="59.20" y="486.20" font-size="9.4" text-anchor="end" font-weight="normal" fill="#222" stroke="#222">1</text>
<line x1="62.50" y1="497.45" x2="64.50" y2="497.45" stroke="#222" stroke-width="0.8"/>
<line x1="263.50" y1="497.45" x2="261.50" y2="497.45" stroke="#222" stroke-width="0.8"/>
<text x="59.20" y="500.75" font-size="9.4" text-anchor="end" font-weight="normal" fill="#222" stroke="#222">0.995</text>
<line x1="62.50" y1="512.00" x2="64.50" y2="512.00" stroke="#222" stroke-width="0.8"/>
<line x1="263.50" y1="512.00" x2="261.50" y2="512.00" stroke="#222" stroke-width="0.8"/>
<text x="59.20" y="515.30" font-size="9.4" text-anchor="end" font-weight="normal" fill="#222" stroke="#222">0.99</text>
<line x1="62.40" y1="512.00" x2="62.40" y2="510.00" stroke="#222" stroke-width="0.8"/>
<line x1="62.40" y1="453.80" x2="62.40" y2="455.80" stroke="#222" stroke-width="0.8"/>
<line x1="104.48" y1="512.00" x2="104.48" y2="510.00" stroke="#222" stroke-width="0.8"/>
<line x1="104.48" y1="453.80" x2="104.48" y2="455.80" stroke="#222" stroke-width="0.8"/>
<line x1="146.57" y1="512.00" x2="146.57" y2="510.00" stroke="#222" stroke-width="0.8"/>
<line x1="146.57" y1="453.80" x2="146.57" y2="455.80" stroke="#222" stroke-width="0.8"/>
<line x1="188.65" y1="512.00" x2="188.65" y2="510.00" stroke="#222" stroke-width="0.8"/>
<line x1="188.65" y1="453.80" x2="188.65" y2="455.80" stroke="#222" stroke-width="0.8"/>
<line x1="230.73" y1="512.00" x2="230.73" y2="510.00" stroke="#222" stroke-width="0.8"/>
<line x1="230.73" y1="453.80" x2="230.73" y2="455.80" stroke="#222" stroke-width="0.8"/>
<text x="163.00" y="449.10" font-size="9.3" text-anchor="middle" font-weight="normal" fill="#222" stroke="#222">(iv) Pure PHBH</text>
<text x="10.50" y="482.90" font-size="9.1" text-anchor="middle" font-weight="normal" fill="#222" stroke="#222" transform="rotate(-90 10.5 482.9)">Relative</text>
<text x="22.00" y="482.90" font-size="9.1" text-anchor="middle" font-weight="normal" fill="#222" stroke="#222" transform="rotate(-90 22.0 482.9)">resistance</text>
<text x="33.30" y="482.90" font-size="9.1" text-anchor="middle" font-weight="normal" fill="#222" stroke="#222" transform="rotate(-90 33.3 482.9)">(-)</text>
<text x="62.40" y="524.80" font-size="9.2" text-anchor="middle" font-weight="normal" fill="#222" stroke="#222">0</text>
<text x="104.48" y="524.80" font-size="9.2" text-anchor="middle" font-weight="normal" fill="#222" stroke="#222">5</text>
<text x="146.57" y="524.80" font-size="9.2" text-anchor="middle" font-weight="normal" fill="#222" stroke="#222">10</text>
<text x="188.65" y="524.80" font-size="9.2" text-anchor="middle" font-weight="normal" fill="#222" stroke="#222">15</text>
<text x="230.73" y="524.80" font-size="9.2" text-anchor="middle" font-weight="normal" fill="#222" stroke="#222">20</text>
<text x="164.00" y="534.80" font-size="9.1" text-anchor="middle" font-weight="normal" fill="#222" stroke="#222">Time (h)</text>
<text x="84.00" y="255.50" font-size="8.7" text-anchor="middle" font-weight="normal" fill="#222" stroke="#222">20%</text>
<text x="84.00" y="265.70" font-size="8.7" text-anchor="middle" font-weight="normal" fill="#222" stroke="#222">RH</text>
<text x="114.20" y="255.50" font-size="8.7" text-anchor="middle" font-weight="normal" fill="#222" stroke="#222">40%</text>
<text x="114.20" y="265.70" font-size="8.7" text-anchor="middle" font-weight="normal" fill="#222" stroke="#222">RH</text>
<text x="155.60" y="255.50" font-size="8.7" text-anchor="middle" font-weight="normal" fill="#222" stroke="#222">50%</text>
<text x="155.60" y="265.70" font-size="8.7" text-anchor="middle" font-weight="normal" fill="#222" stroke="#222">RH</text>
<text x="196.60" y="283.90" font-size="8.7" text-anchor="middle" font-weight="normal" fill="#222" stroke="#222">60%</text>
<text x="196.60" y="294.10" font-size="8.7" text-anchor="middle" font-weight="normal" fill="#222" stroke="#222">RH</text>
<text x="237.00" y="283.90" font-size="8.7" text-anchor="middle" font-weight="normal" fill="#222" stroke="#222">70%</text>
<text x="237.00" y="294.10" font-size="8.7" text-anchor="middle" font-weight="normal" fill="#222" stroke="#222">RH</text>
<g clip-path="url(#clipE)">
<polyline points="309.20,365.89 309.84,366.82 310.48,367.91 311.12,369.14 311.76,370.50 312.40,371.97 313.04,373.71 313.69,375.79 314.33,378.09 314.97,380.47 315.61,382.79 316.25,384.93 316.89,386.74 317.53,388.43 318.17,390.20 318.81,391.91 319.45,393.46 320.09,394.72 320.73,395.56 321.38,395.87 322.02,395.33 322.66,393.87 323.30,391.75 323.94,389.21 324.58,386.49 325.22,383.85 325.86,381.53 326.50,379.29 327.14,376.82 327.78,374.29 328.42,371.86 329.06,369.69 329.71,367.93 330.35,366.76 330.99,365.94 331.63,365.18 332.27,364.48 332.91,363.84 333.55,363.30 334.19,362.85 334.83,362.52 335.47,362.31 336.11,362.24 336.75,362.28 337.40,362.40 338.04,362.59 338.68,362.83 339.32,363.12 339.96,363.45 340.60,363.79 341.24,364.15 341.88,364.57 342.52,365.12 343.16,365.78 343.80,366.55 344.44,367.41 345.08,368.37 345.73,369.40 346.37,370.51 347.01,371.69 347.65,372.93 348.29,374.21 348.93,375.54 349.57,376.90 350.21,378.29 350.85,379.70 351.49,381.12 352.13,382.54 352.77,383.96 353.42,385.36 354.06,386.74 354.70,388.14 355.34,389.60 355.98,391.11 356.62,392.66 357.26,394.27 357.90,395.91 358.54,397.60 359.18,399.32 359.82,401.07 360.46,402.85 361.10,404.66 361.75,406.49 362.39,408.34 363.03,410.20 363.67,412.08 364.31,413.96 364.95,415.85 365.59,417.74 366.23,419.62 366.87,421.50 367.51,423.39 368.15,425.29 368.79,427.21 369.44,429.15 370.08,431.10 370.72,433.07 371.36,435.06 372.00,437.06 372.64,439.08 373.28,441.11 373.92,443.16 374.56,445.23 375.20,447.31 375.84,449.41 376.48,451.53 377.12,453.66 377.77,455.81 378.41,457.97 379.05,460.15 379.69,462.35 380.33,464.75 380.97,467.48 381.61,470.45 382.25,473.56 382.89,476.71 383.53,479.81 384.17,482.75 384.81,485.45 385.46,487.80 386.10,489.70 386.74,491.07 387.38,491.80 388.02,491.66 388.66,489.91 389.30,486.73 389.94,482.43 390.58,477.33 391.22,471.75 391.86,466.01 392.50,460.44 393.14,455.34 393.79,451.05 394.43,447.23 395.07,443.35 395.71,439.47 396.35,435.60 396.99,431.79 397.63,428.07 398.27,424.48 398.91,421.05 399.55,417.82 400.19,414.82 400.83,412.10 401.48,409.68 402.12,407.60 402.76,405.69 403.40,403.78 404.04,401.90 404.68,400.08 405.32,398.36 405.96,396.78 406.60,395.36 407.24,394.14 407.88,393.16 408.52,392.45 409.16,392.04 409.81,391.97 410.45,392.10 411.09,392.39 411.73,392.82 412.37,393.36 413.01,394.01 413.65,394.74 414.29,395.53 414.93,396.37 415.57,397.24 416.21,398.12 416.85,398.99 417.50,399.84 418.14,400.65 418.78,401.45 419.42,402.28 420.06,403.15 420.70,404.05 421.34,404.98 421.98,405.93 422.62,406.91 423.26,407.91 423.90,408.93 424.54,409.96 425.18,411.01 425.83,412.07 426.47,413.14 427.11,414.21 427.75,415.29 428.39,416.37 429.03,417.44 429.67,418.51 430.31,419.58 430.95,420.64 431.59,421.70 432.23,422.79 432.87,423.91 433.52,425.04 434.16,426.19 434.80,427.34 435.44,428.50 436.08,429.65 436.72,430.79 437.36,431.92 438.00,433.02 438.64,434.10 439.28,435.16 439.92,436.17 440.56,437.15 441.20,438.21 441.85,439.36 442.49,440.42 443.13,441.19 443.77,441.49 444.41,441.19 445.05,440.36 445.69,439.08 446.33,437.43 446.97,435.52 447.61,433.43 448.25,431.23 448.89,429.04 449.54,426.92 450.18,424.98 450.82,423.03 451.46,420.85 452.10,418.52 452.74,416.08 453.38,413.58 454.02,411.08 454.66,408.64 455.30,406.30 455.94,404.11 456.58,402.14 457.22,400.44 457.87,399.05 458.51,398.04 459.15,397.24 459.79,396.47 460.43,395.73 461.07,395.03 461.71,394.38 462.35,393.79 462.99,393.26 463.63,392.82 464.27,392.45 464.91,392.18 465.56,392.02 466.20,391.96 466.84,392.15 467.48,392.68 468.12,393.46 468.76,394.40 469.40,395.43" fill="none" stroke="#f0902e" stroke-width="1.0" stroke-linejoin="round"/>
<polyline points="309.20,371.54 309.84,372.99 310.48,374.44 311.12,375.88 311.76,377.31 312.40,378.72 313.04,380.13 313.69,381.53 314.33,383.06 314.97,384.79 315.61,386.60 316.25,388.35 316.89,389.93 317.53,391.22 318.17,392.08 318.81,392.39 319.45,391.93 320.09,390.69 320.73,388.90 321.38,386.78 322.02,384.55 322.66,382.44 323.30,380.66 323.94,379.07 324.58,377.41 325.22,375.74 325.86,374.12 326.50,372.62 327.14,371.28 327.78,370.18 328.42,369.36 329.06,368.72 329.71,368.11 330.35,367.54 330.99,367.05 331.63,366.64 332.27,366.34 332.91,366.18 333.55,366.16 334.19,366.32 334.83,366.63 335.47,367.07 336.11,367.58 336.75,368.16 337.40,368.76 338.04,369.36 338.68,369.99 339.32,370.71 339.96,371.50 340.60,372.36 341.24,373.29 341.88,374.28 342.52,375.33 343.16,376.43 343.80,377.58 344.44,378.78 345.08,380.01 345.73,381.27 346.37,382.56 347.01,383.87 347.65,385.21 348.29,386.55 348.93,387.90 349.57,389.26 350.21,390.61 350.85,391.96 351.49,393.32 352.13,394.73 352.77,396.18 353.42,397.67 354.06,399.20 354.70,400.76 355.34,402.36 355.98,403.98 356.62,405.63 357.26,407.31 357.90,409.01 358.54,410.74 359.18,412.48 359.82,414.23 360.46,416.00 361.10,417.79 361.75,419.58 362.39,421.37 363.03,423.18 363.67,424.98 364.31,426.81 364.95,428.68 365.59,430.58 366.23,432.52 366.87,434.49 367.51,436.47 368.15,438.48 368.79,440.50 369.44,442.52 370.08,444.54 370.72,446.57 371.36,448.58 372.00,450.58 372.64,452.57 373.28,454.53 373.92,456.60 374.56,458.88 375.20,461.31 375.84,463.84 376.48,466.40 377.12,468.94 377.77,471.40 378.41,473.72 379.05,475.85 379.69,477.71 380.33,479.27 380.97,480.45 381.61,481.20 382.25,481.46 382.89,481.05 383.53,479.89 384.17,478.10 384.81,475.79 385.46,473.06 386.10,470.05 386.74,466.85 387.38,463.59 388.02,460.37 388.66,457.31 389.30,454.53 389.94,451.82 390.58,448.94 391.22,445.93 391.86,442.84 392.50,439.71 393.14,436.57 393.79,433.48 394.43,430.46 395.07,427.56 395.71,424.83 396.35,422.30 396.99,420.02 397.63,418.03 398.27,416.17 398.91,414.27 399.55,412.37 400.19,410.51 400.83,408.70 401.48,406.99 402.12,405.41 402.76,403.98 403.40,402.74 404.04,401.72 404.68,400.95 405.32,400.47 405.96,400.30 406.60,400.35 407.24,400.47 407.88,400.68 408.52,400.96 409.16,401.29 409.81,401.68 410.45,402.12 411.09,402.60 411.73,403.11 412.37,403.64 413.01,404.19 413.65,404.75 414.29,405.31 414.93,405.86 415.57,406.46 416.21,407.16 416.85,407.94 417.50,408.79 418.14,409.72 418.78,410.70 419.42,411.73 420.06,412.79 420.70,413.88 421.34,415.00 421.98,416.11 422.62,417.23 423.26,418.34 423.90,419.43 424.54,420.49 425.18,421.50 425.83,422.47 426.47,423.38 427.11,424.22 427.75,424.98 428.39,425.71 429.03,426.47 429.67,427.25 430.31,428.03 430.95,428.82 431.59,429.60 432.23,430.36 432.87,431.10 433.52,431.81 434.16,432.48 434.80,433.10 435.44,433.66 436.08,434.16 436.72,434.59 437.36,434.93 438.00,435.19 438.64,435.35 439.28,435.41 439.92,435.21 440.56,434.63 441.20,433.75 441.85,432.60 442.49,431.25 443.13,429.75 443.77,428.15 444.41,426.52 445.05,424.89 445.69,423.33 446.33,421.89 446.97,420.63 447.61,419.44 448.25,418.17 448.89,416.83 449.54,415.45 450.18,414.04 450.82,412.61 451.46,411.18 452.10,409.76 452.74,408.37 453.38,407.02 454.02,405.73 454.66,404.51 455.30,403.38 455.94,402.35 456.58,401.44 457.22,400.66 457.87,400.03 458.51,399.56 459.15,399.27 459.79,399.17 460.43,399.22 461.07,399.36 461.71,399.58 462.35,399.86 462.99,400.21 463.63,400.59 464.27,401.02 464.91,401.46 465.56,401.92 466.20,402.39 466.84,402.91 467.48,403.55 468.12,404.27 468.76,405.05 469.40,405.86" fill="none" stroke="#3ce63c" stroke-width="1.2" stroke-linejoin="round"/>
<polyline points="309.20,365.89 309.84,367.37 310.48,368.94 311.12,370.60 311.76,372.35 312.40,374.18 313.04,376.08 313.69,378.05 314.33,380.44 314.97,383.37 315.61,386.51 316.25,389.54 316.89,392.11 317.53,393.90 318.17,394.56 318.81,393.93 319.45,392.24 320.09,389.82 320.73,387.01 321.38,384.14 322.02,381.53 322.66,378.98 323.30,376.16 323.94,373.22 324.58,370.30 325.22,367.58 325.86,365.19 326.50,363.28 327.14,361.65 327.78,360.02 328.42,358.48 329.06,357.10 329.71,355.95 330.35,355.11 330.99,354.65 331.63,354.61 332.27,354.74 332.91,354.98 333.55,355.32 334.19,355.73 334.83,356.19 335.47,356.69 336.11,357.20 336.75,357.78 337.40,358.51 338.04,359.37 338.68,360.35 339.32,361.44 339.96,362.64 340.60,363.91 341.24,365.27 341.88,366.70 342.52,368.17 343.16,369.70 343.80,371.25 344.44,372.83 345.08,374.42 345.73,376.01 346.37,377.58 347.01,379.14 347.65,380.66 348.29,382.18 348.93,383.74 349.57,385.34 350.21,386.98 350.85,388.64 351.49,390.34 352.13,392.07 352.77,393.82 353.42,395.60 354.06,397.41 354.70,399.23 355.34,401.08 355.98,402.94 356.62,404.82 357.26,406.71 357.90,408.61 358.54,410.52 359.18,412.44 359.82,414.36 360.46,416.29 361.10,418.22 361.75,420.15 362.39,422.08 363.03,424.03 363.67,425.99 364.31,427.98 364.95,429.99 365.59,432.03 366.23,434.10 366.87,436.22 367.51,438.38 368.15,440.59 368.79,442.86 369.44,445.18 370.08,447.57 370.72,450.24 371.36,453.33 372.00,456.75 372.64,460.41 373.28,464.23 373.92,468.11 374.56,471.96 375.20,475.69 375.84,479.22 376.48,482.45 377.12,485.30 377.77,487.67 378.41,489.47 379.05,490.62 379.69,491.02 380.33,490.41 380.97,488.69 381.61,486.03 382.25,482.62 382.89,478.64 383.53,474.25 384.17,469.64 384.81,464.99 385.46,460.47 386.10,456.26 386.74,452.02 387.38,447.35 388.02,442.39 388.66,437.24 389.30,432.03 389.94,426.89 390.58,421.92 391.22,417.26 391.86,413.03 392.50,409.34 393.14,405.88 393.79,402.31 394.43,398.73 395.07,395.21 395.71,391.85 396.35,388.74 396.99,385.95 397.63,383.58 398.27,381.71 398.91,380.43 399.55,379.83 400.19,379.87 400.83,380.24 401.48,380.87 402.12,381.74 402.76,382.81 403.40,384.03 404.04,385.39 404.68,386.83 405.32,388.33 405.96,389.85 406.60,391.36 407.24,392.82 407.88,394.19 408.52,395.43 409.16,396.62 409.81,397.83 410.45,399.05 411.09,400.29 411.73,401.55 412.37,402.81 413.01,404.07 413.65,405.34 414.29,406.61 414.93,407.88 415.57,409.14 416.21,410.40 416.85,411.64 417.50,412.87 418.14,414.08 418.78,415.27 419.42,416.43 420.06,417.57 420.70,418.69 421.34,419.77 421.98,420.87 422.62,422.05 423.26,423.29 423.90,424.55 424.54,425.83 425.18,427.09 425.83,428.32 426.47,429.50 427.11,430.61 427.75,431.62 428.39,432.51 429.03,433.27 429.67,433.87 430.31,434.29 430.95,434.51 431.59,434.45 432.23,433.77 432.87,432.51 433.52,430.78 434.16,428.68 434.80,426.31 435.44,423.79 436.08,421.20 436.72,418.67 437.36,416.29 438.00,413.80 438.64,410.94 439.28,407.83 439.92,404.58 440.56,401.31 441.20,398.12 441.85,395.13 442.49,392.45 443.13,390.20 443.77,388.48 444.41,387.08 445.05,385.71 445.69,384.38 446.33,383.13 446.97,381.99 447.61,380.96 448.25,380.09 448.89,379.39 449.54,378.90 450.18,378.62 450.82,378.60 451.46,378.87 452.10,379.41 452.74,380.16 453.38,381.09 454.02,382.15 454.66,383.28 455.30,384.46 455.94,385.63 456.58,386.74 457.22,387.92 457.87,389.29 458.51,390.80 459.15,392.41 459.79,394.08 460.43,395.77 461.07,397.45 461.71,399.06 462.35,400.58 462.99,401.95 463.63,403.15 464.27,404.12 464.91,405.00 465.56,405.88 466.20,406.65 466.84,407.25 467.48,407.57 468.12,407.48 468.76,406.85 469.40,405.86" fill="none" stroke="#000" stroke-width="1.2" stroke-linejoin="round"/>
<polyline points="309.20,366.76 309.84,368.59 310.48,370.44 311.12,372.29 311.76,374.15 312.40,376.02 313.04,377.90 313.69,379.79 314.33,381.93 314.97,384.39 315.61,386.95 316.25,389.35 316.89,391.36 317.53,392.75 318.17,393.26 318.81,392.65 319.45,391.03 320.09,388.70 320.73,385.99 321.38,383.21 322.02,380.66 322.66,378.14 323.30,375.33 323.94,372.38 324.58,369.46 325.22,366.72 325.86,364.31 326.50,362.41 327.14,360.79 327.78,359.18 328.42,357.66 329.06,356.34 329.71,355.28 330.35,354.58 330.99,354.33 331.63,354.40 332.27,354.58 332.91,354.87 333.55,355.24 334.19,355.67 334.83,356.16 335.47,356.67 336.11,357.20 336.75,357.80 337.40,358.56 338.04,359.46 338.68,360.48 339.32,361.62 339.96,362.87 340.60,364.20 341.24,365.62 341.88,367.10 342.52,368.64 343.16,370.22 343.80,371.84 344.44,373.47 345.08,375.11 345.73,376.75 346.37,378.38 347.01,379.97 347.65,381.53 348.29,383.08 348.93,384.66 349.57,386.27 350.21,387.91 350.85,389.58 351.49,391.27 352.13,392.99 352.77,394.74 353.42,396.50 354.06,398.29 354.70,400.10 355.34,401.93 355.98,403.78 356.62,405.65 357.26,407.53 357.90,409.43 358.54,411.34 359.18,413.27 359.82,415.21 360.46,417.16 361.10,419.11 361.75,421.07 362.39,423.05 363.03,425.03 363.67,427.04 364.31,429.07 364.95,431.13 365.59,433.23 366.23,435.37 366.87,437.55 367.51,439.78 368.15,442.07 368.79,444.42 369.44,446.83 370.08,449.31 370.72,452.11 371.36,455.37 372.00,459.01 372.64,462.90 373.28,466.93 373.92,471.01 374.56,475.01 375.20,478.84 375.84,482.37 376.48,485.51 377.12,488.14 377.77,490.15 378.41,491.44 379.05,491.89 379.69,491.35 380.33,489.81 380.97,487.42 381.61,484.32 382.25,480.65 382.89,476.55 383.53,472.16 384.17,467.62 384.81,463.07 385.46,458.66 386.10,454.53 386.74,450.31 387.38,445.66 388.02,440.68 388.66,435.52 389.30,430.29 389.94,425.13 390.58,420.15 391.22,415.48 391.86,411.26 392.50,407.60 393.14,404.19 393.79,400.67 394.43,397.15 395.07,393.71 395.71,390.44 396.35,387.42 396.99,384.76 397.63,382.53 398.27,380.83 398.91,379.74 399.55,379.36 400.19,379.51 400.83,379.95 401.48,380.65 402.12,381.57 402.76,382.67 403.40,383.92 404.04,385.30 404.68,386.76 405.32,388.27 405.96,389.80 406.60,391.32 407.24,392.78 407.88,394.17 408.52,395.43 409.16,396.65 409.81,397.89 410.45,399.16 411.09,400.44 411.73,401.75 412.37,403.06 413.01,404.39 413.65,405.72 414.29,407.05 414.93,408.38 415.57,409.70 416.21,411.01 416.85,412.31 417.50,413.58 418.14,414.84 418.78,416.07 419.42,417.26 420.06,418.43 420.70,419.55 421.34,420.64 421.98,421.74 422.62,422.90 423.26,424.12 423.90,425.35 424.54,426.60 425.18,427.82 425.83,429.00 426.47,430.13 427.11,431.17 427.75,432.11 428.39,432.93 429.03,433.60 429.67,434.11 430.31,434.43 430.95,434.54 431.59,434.19 432.23,433.20 432.87,431.69 433.52,429.74 434.16,427.45 434.80,424.94 435.44,422.29 436.08,419.61 436.72,417.00 437.36,414.55 438.00,412.00 438.64,409.09 439.28,405.92 439.92,402.63 440.56,399.32 441.20,396.12 441.85,393.14 442.49,390.51 443.13,388.34 443.77,386.74 444.41,385.49 445.05,384.28 445.69,383.12 446.33,382.05 446.97,381.08 447.61,380.24 448.25,379.54 448.89,379.02 449.54,378.69 450.18,378.58 450.82,378.71 451.46,379.09 452.10,379.68 452.74,380.44 453.38,381.34 454.02,382.35 454.66,383.43 455.30,384.55 455.94,385.66 456.58,386.74 457.22,387.94 457.87,389.37 458.51,390.99 459.15,392.74 459.79,394.56 460.43,396.42 461.07,398.24 461.71,399.98 462.35,401.57 462.99,402.98 463.63,404.14 464.27,404.99 464.91,405.68 465.56,406.35 466.20,406.92 466.84,407.35 467.48,407.58 468.12,407.55 468.76,407.24 469.40,406.73" fill="none" stroke="#2424e6" stroke-width="1.2" stroke-linejoin="round"/>
</g>
<rect x="309.50" y="320.50" width="160.00" height="191.10" fill="none" stroke="#222" stroke-width="0.9"/>
<line x1="309.50" y1="320.70" x2="311.50" y2="320.70" stroke="#222" stroke-width="0.8"/>
<line x1="469.50" y1="320.70" x2="467.50" y2="320.70" stroke="#222" stroke-width="0.8"/>
<text x="305.60" y="323.90" font-size="9.2" text-anchor="end" font-weight="normal" fill="#222" stroke="#222">0</text>
<line x1="309.50" y1="338.08" x2="311.50" y2="338.08" stroke="#222" stroke-width="0.8"/>
<line x1="469.50" y1="338.08" x2="467.50" y2="338.08" stroke="#222" stroke-width="0.8"/>
<line x1="309.50" y1="355.46" x2="311.50" y2="355.46" stroke="#222" stroke-width="0.8"/>
<line x1="469.50" y1="355.46" x2="467.50" y2="355.46" stroke="#222" stroke-width="0.8"/>
<text x="305.60" y="358.66" font-size="9.2" text-anchor="end" font-weight="normal" fill="#222" stroke="#222">-4</text>
<line x1="309.50" y1="372.84" x2="311.50" y2="372.84" stroke="#222" stroke-width="0.8"/>
<line x1="469.50" y1="372.84" x2="467.50" y2="372.84" stroke="#222" stroke-width="0.8"/>
<line x1="309.50" y1="390.22" x2="311.50" y2="390.22" stroke="#222" stroke-width="0.8"/>
<line x1="469.50" y1="390.22" x2="467.50" y2="390.22" stroke="#222" stroke-width="0.8"/>
<text x="305.60" y="393.42" font-size="9.2" text-anchor="end" font-weight="normal" fill="#222" stroke="#222">-8</text>
<line x1="309.50" y1="407.60" x2="311.50" y2="407.60" stroke="#222" stroke-width="0.8"/>
<line x1="469.50" y1="407.60" x2="467.50" y2="407.60" stroke="#222" stroke-width="0.8"/>
<line x1="309.50" y1="424.98" x2="311.50" y2="424.98" stroke="#222" stroke-width="0.8"/>
<line x1="469.50" y1="424.98" x2="467.50" y2="424.98" stroke="#222" stroke-width="0.8"/>
<text x="305.60" y="428.18" font-size="9.2" text-anchor="end" font-weight="normal" fill="#222" stroke="#222">-12</text>
<line x1="309.50" y1="442.36" x2="311.50" y2="442.36" stroke="#222" stroke-width="0.8"/>
<line x1="469.50" y1="442.36" x2="467.50" y2="442.36" stroke="#222" stroke-width="0.8"/>
<line x1="309.50" y1="459.74" x2="311.50" y2="459.74" stroke="#222" stroke-width="0.8"/>
<line x1="469.50" y1="459.74" x2="467.50" y2="459.74" stroke="#222" stroke-width="0.8"/>
<text x="305.60" y="462.94" font-size="9.2" text-anchor="end" font-weight="normal" fill="#222" stroke="#222">-16</text>
<line x1="309.50" y1="477.12" x2="311.50" y2="477.12" stroke="#222" stroke-width="0.8"/>
<line x1="469.50" y1="477.12" x2="467.50" y2="477.12" stroke="#222" stroke-width="0.8"/>
<line x1="309.50" y1="494.50" x2="311.50" y2="494.50" stroke="#222" stroke-width="0.8"/>
<line x1="469.50" y1="494.50" x2="467.50" y2="494.50" stroke="#222" stroke-width="0.8"/>
<text x="305.60" y="497.70" font-size="9.2" text-anchor="end" font-weight="normal" fill="#222" stroke="#222">-20</text>
<line x1="309.50" y1="511.88" x2="311.50" y2="511.88" stroke="#222" stroke-width="0.8"/>
<line x1="469.50" y1="511.88" x2="467.50" y2="511.88" stroke="#222" stroke-width="0.8"/>
<line x1="309.20" y1="511.60" x2="309.20" y2="509.60" stroke="#222" stroke-width="0.8"/>
<line x1="309.20" y1="320.50" x2="309.20" y2="322.50" stroke="#222" stroke-width="0.8"/>
<text x="309.20" y="525.20" font-size="9.2" text-anchor="middle" font-weight="normal" fill="#222" stroke="#222">1</text>
<line x1="341.24" y1="511.60" x2="341.24" y2="509.60" stroke="#222" stroke-width="0.8"/>
<line x1="341.24" y1="320.50" x2="341.24" y2="322.50" stroke="#222" stroke-width="0.8"/>
<text x="341.24" y="525.20" font-size="9.2" text-anchor="middle" font-weight="normal" fill="#222" stroke="#222">1.5</text>
<line x1="373.28" y1="511.60" x2="373.28" y2="509.60" stroke="#222" stroke-width="0.8"/>
<line x1="373.28" y1="320.50" x2="373.28" y2="322.50" stroke="#222" stroke-width="0.8"/>
<text x="373.28" y="525.20" font-size="9.2" text-anchor="middle" font-weight="normal" fill="#222" stroke="#222">2</text>
<line x1="405.32" y1="511.60" x2="405.32" y2="509.60" stroke="#222" stroke-width="0.8"/>
<line x1="405.32" y1="320.50" x2="405.32" y2="322.50" stroke="#222" stroke-width="0.8"/>
<text x="405.32" y="525.20" font-size="9.2" text-anchor="middle" font-weight="normal" fill="#222" stroke="#222">2.5</text>
<line x1="437.36" y1="511.60" x2="437.36" y2="509.60" stroke="#222" stroke-width="0.8"/>
<line x1="437.36" y1="320.50" x2="437.36" y2="322.50" stroke="#222" stroke-width="0.8"/>
<text x="437.36" y="525.20" font-size="9.2" text-anchor="middle" font-weight="normal" fill="#222" stroke="#222">3</text>
<line x1="469.40" y1="511.60" x2="469.40" y2="509.60" stroke="#222" stroke-width="0.8"/>
<line x1="469.40" y1="320.50" x2="469.40" y2="322.50" stroke="#222" stroke-width="0.8"/>
<text x="469.40" y="525.20" font-size="9.2" text-anchor="middle" font-weight="normal" fill="#222" stroke="#222">3.5</text>
<text x="389.80" y="535.50" font-size="9.4" text-anchor="middle" font-weight="normal" fill="#222" stroke="#222">Frequency (GHz)</text>
<text x="286.30" y="416.30" font-size="9.3" text-anchor="middle" font-weight="normal" fill="#222" stroke="#222" transform="rotate(-90 286.3 416.3)">S12 signal (dB)</text>
<rect x="346.70" y="323.00" width="7.40" height="7.00" fill="#f0902e" stroke="none" stroke-width="1"/>
<text x="356.30" y="329.10" font-size="8.2" text-anchor="start" font-weight="normal" fill="#222" stroke="#222">PE paper, 30% RH</text>
<rect x="346.70" y="333.90" width="7.40" height="7.00" fill="#3ce63c" stroke="none" stroke-width="1"/>
<text x="356.30" y="340.00" font-size="8.2" text-anchor="start" font-weight="normal" fill="#222" stroke="#222">PE paper, 70% RH</text>
<rect x="346.70" y="344.80" width="7.40" height="7.00" fill="#000" stroke="none" stroke-width="1"/>
<text x="356.30" y="350.90" font-size="8.2" text-anchor="start" font-weight="normal" fill="#222" stroke="#222">PHBH-50%cellulose, 30% RH</text>
<rect x="346.70" y="355.70" width="7.40" height="7.00" fill="#2424e6" stroke="none" stroke-width="1"/>
<text x="356.30" y="361.80" font-size="8.2" text-anchor="start" font-weight="normal" fill="#222" stroke="#222">PHBH-50%cellulose, 70% RH</text>
<g clip-path="url(#clipPhotoE)">
<rect x="309.50" y="234.50" width="160.30" height="81.90" fill="url(#gPhotoBg)" stroke="none" stroke-width="1"/>
<polygon points="349.40,234.40 458.80,283.20 434.00,316.50 416.00,316.50 318.90,263.00" fill="url(#gSub)"/>
<line x1="349.40" y1="234.60" x2="458.80" y2="283.20" stroke="#c08a70" stroke-width="0.7"/>
<line x1="318.90" y1="263.20" x2="416.00" y2="316.50" stroke="#b98a78" stroke-width="0.6"/>
<g transform="translate(354.2 256.4) rotate(27.5)">
<rect x="-22.00" y="-2.30" width="116.00" height="4.60" fill="#f0f0f2" stroke="none" stroke-width="1"/>
<rect x="-8.00" y="-4.60" width="16.00" height="9.20" fill="#f2f2f2" stroke="#6a5a50" stroke-width="0.4"/>
<rect x="15.20" y="-5.60" width="28.00" height="11.20" fill="#f2f2f2" stroke="#6a5a50" stroke-width="0.4"/>
<rect x="68.30" y="-5.00" width="16.00" height="10.00" fill="#f2f2f2" stroke="#6a5a50" stroke-width="0.4"/>
<line x1="15.80" y1="-4.80" x2="42.60" y2="-4.80" stroke="#7a665c" stroke-width="0.4"/>
<line x1="15.80" y1="-3.60" x2="42.60" y2="-3.60" stroke="#7a665c" stroke-width="0.4"/>
<line x1="15.80" y1="-2.40" x2="42.60" y2="-2.40" stroke="#7a665c" stroke-width="0.4"/>
<line x1="15.80" y1="-1.20" x2="42.60" y2="-1.20" stroke="#7a665c" stroke-width="0.4"/>
<line x1="15.80" y1="0.00" x2="42.60" y2="0.00" stroke="#7a665c" stroke-width="0.4"/>
<line x1="15.80" y1="1.20" x2="42.60" y2="1.20" stroke="#7a665c" stroke-width="0.4"/>
<line x1="15.80" y1="2.40" x2="42.60" y2="2.40" stroke="#7a665c" stroke-width="0.4"/>
<line x1="15.80" y1="3.60" x2="42.60" y2="3.60" stroke="#7a665c" stroke-width="0.4"/>
<line x1="15.80" y1="4.80" x2="42.60" y2="4.80" stroke="#7a665c" stroke-width="0.4"/>
<rect x="-7.20" y="-3.80" width="14.40" height="7.60" fill="none" stroke="#7a665c" stroke-width="0.4"/>
<rect x="-5.90" y="-2.50" width="11.80" height="5.00" fill="none" stroke="#7a665c" stroke-width="0.4"/>
<rect x="-4.60" y="-1.20" width="9.20" height="2.40" fill="none" stroke="#7a665c" stroke-width="0.4"/>
<rect x="69.10" y="-4.20" width="14.40" height="8.40" fill="none" stroke="#7a665c" stroke-width="0.4"/>
<rect x="70.40" y="-2.90" width="11.80" height="5.80" fill="none" stroke="#7a665c" stroke-width="0.4"/>
<rect x="71.70" y="-1.60" width="9.20" height="3.20" fill="none" stroke="#7a665c" stroke-width="0.4"/>
</g>
<polygon points="310.50,236.20 318.00,234.40 329.00,234.40 337.00,236.80 346.80,244.60 347.20,247.40 339.50,254.60 333.00,253.80 327.00,249.50 318.00,245.20 311.00,242.20" fill="#c9a443"/>
<g transform="translate(319.2 239.8) rotate(27.5)">
<rect x="-8.50" y="-4.80" width="15.00" height="9.60" fill="#d6b352" stroke="none" stroke-width="1" rx="3.5"/>
<rect x="-7.50" y="-4.20" width="13.00" height="3.40" fill="#f2dc96" stroke="none" stroke-width="1" rx="1.6"/>
</g>
<polygon points="326.00,239.60 335.40,237.70 339.20,243.00 331.00,246.50" fill="#e6c96e"/>
<line x1="337.00" y1="240.80" x2="346.80" y2="246.00" stroke="#b8923a" stroke-width="1.4"/>
<line x1="328.70" y1="249.60" x2="338.00" y2="253.70" stroke="#b8923a" stroke-width="1.4"/>
<polygon points="332.50,244.20 338.50,243.60 344.00,247.80 342.60,252.40 336.50,251.60" fill="#ecebe6"/>
<polygon points="427.00,294.50 437.00,295.50 444.00,302.00 440.00,306.50 430.00,303.50" fill="#e6e4de"/>
<line x1="438.60" y1="294.60" x2="448.40" y2="300.20" stroke="#cfa846" stroke-width="2.4"/>
<line x1="431.20" y1="305.60" x2="441.60" y2="311.40" stroke="#cfa846" stroke-width="2.4"/>
<g transform="translate(461 309) rotate(27.5)">
<rect x="-9.00" y="-4.60" width="22.00" height="9.20" fill="#dcc888" stroke="none" stroke-width="1" rx="2.5"/>
<rect x="-8.00" y="-4.00" width="20.00" height="3.00" fill="#f4e8bc" stroke="none" stroke-width="1" rx="1.3"/>
<rect x="-6.50" y="0.80" width="4.50" height="3.40" fill="#5e4e30" stroke="none" stroke-width="1"/>
</g>
<polygon points="446.60,295.20 455.40,300.20 447.60,312.20 440.60,308.20" fill="#d4b24e"/>
<polygon points="447.60,297.40 453.00,300.60 447.40,308.40 443.60,306.20" fill="#ecd488"/>
</g>
<rect x="309.50" y="234.50" width="160.30" height="81.90" fill="none" stroke="#2a2a2a" stroke-width="0.9"/>
<text x="313.30" y="307.40" font-size="8.1" text-anchor="start" font-weight="normal" fill="#111" stroke="#111">5 mm</text>
<rect x="313.90" y="310.10" width="20.00" height="2.40" fill="#000" stroke="none" stroke-width="1"/>
<g>
<path d="M17.2,101.8 L17.4,80 L18.4,62 L20.5,42 L23.4,29 C25,25.2 27.2,23.2 29.5,23 C33,22.9 36.5,25.5 38.6,29.5 C40.2,35 41.1,42 41,49.4 C40.6,60 39,70 37.8,79.5 L37.4,82 L40,101.8 Z" fill="url(#gThumb)" stroke="none" stroke-width="1"/>
<path d="M23.4,29 C25,25.2 27.2,23.2 29.5,23 C33,22.9 36.5,25.5 38.6,29.5 C40.2,35 41.1,42 41,49.4 L36,52 C34,44 30,36 23.4,29 Z" fill="#a04838" stroke="none" stroke-width="1" opacity="0.35"/>
<path d="M37.4,82 L39.6,81.7 L48.3,75.9 L58.5,67.2 L67.2,58.5 L73,48.3 L77.3,40.6 L80,38.6 L86,38.4 L91,41 L96.5,33.5 C98.5,31.4 101,30.6 104.5,30.6 C108,30.8 110.8,32 112.2,34.2 C113.8,37.5 114.6,42 115.2,48 C116,55 116.3,62 116.1,70 C115.8,80 115,90 113.6,101.8 L40,101.8 Z" fill="url(#gSkin)" stroke="none" stroke-width="1"/>
<g clip-path="url(#clipHand)">
<rect x="17.00" y="40.00" width="100.00" height="62.00" fill="url(#gHandDark)" stroke="none" stroke-width="1"/>
</g>
<path d="M47,84 C49,90 50,96 50,101 M54,80 C56,88 57,94 57,101 M62,76 C63,84 64,92 64,101" fill="none" stroke="#8a3c28" stroke-width="1.4" opacity="0.3"/>
<path d="M50,92 C56,85 62,80 70,78" fill="none" stroke="#9a4a38" stroke-width="0.9" opacity="0.45"/>
<path d="M77.5,41 C79,38.8 84,38.4 88,39.5 C90,41.5 90.5,45 89.5,48.5 C86,50 81,49 77,46 Z" fill="#c87870" stroke="none" stroke-width="1" opacity="0.55"/>
<path d="M70.4,58.7 C74,61 77.5,63 81.3,65.2" fill="none" stroke="#b0483c" stroke-width="1.0" opacity="0.7"/>
<path d="M90.5,45 C93,43.5 97,44.5 99,47.5 C100,55 100,64 99,72 C96,75 92,74 90,70 C89.5,62 89.8,52 90.5,45 Z" fill="#f0d8d4" stroke="none" stroke-width="1" opacity="0.35"/>
<path d="M97.5,36 C98.5,32 101.5,30.6 104.5,30.6 C108,30.8 110.8,32 112.2,34.2 C113,37 113,40 112,42 C108,43 102,42 98,40 Z" fill="#c88078" stroke="none" stroke-width="1" opacity="0.5"/>
<path d="M78,76 C80,82 82,88 84.6,93.5" fill="none" stroke="#a86458" stroke-width="0.9" opacity="0.5"/>
<path d="M99,48 C100,56 100.5,64 100.5,72" fill="none" stroke="#b87468" stroke-width="0.8" opacity="0.45"/>
<path d="M103,44 C104,56 104,70 103,88" fill="none" stroke="#b87468" stroke-width="0.8" opacity="0.35"/>
<path d="M39.8,29.5 C43,27 47,24.8 50.7,23.3 C56,21 62,19 68,18.7 C72,18.7 76,19.3 80,20.6 C86,22.6 92,26.5 96.9,31.4 L102.6,50.8 C99,46.5 96,43.2 92.9,41.6 C91,40.6 89,40.2 87.8,40 C84,38.8 80,37.6 76.4,37.1 C73,36.4 70,36 67,35.9 C65,35.8 63.5,35.7 62,35.7 C59,35.9 56.3,36.9 53.8,38.3 C50,40.6 47,42.6 44,45 C40.5,48 37.5,50.6 34.7,53.3 Z" fill="url(#gPaper)" stroke="none" stroke-width="1"/>
<path d="M39.8,29.5 C43,27 47,24.8 50.7,23.3 L53.8,38.3 C50,40.6 47,42.6 44,45 C40.5,48 37.5,50.6 34.7,53.3 Z" fill="#e0dcc8" stroke="none" stroke-width="1" opacity="0.35"/>
<path d="M92,27.5 C94,29 95.5,30 96.9,31.4 L102.6,50.8 C99,46.5 96,43.2 92.9,41.6 Z" fill="#9a9070" stroke="none" stroke-width="1" opacity="0.45"/>
</g>
<rect x="63.60" y="21.60" width="11.10" height="11.00" fill="none" stroke="#111" stroke-width="1.3"/>
<line x1="63.60" y1="32.60" x2="62.20" y2="35.40" stroke="#111" stroke-width="1.1"/>
<line x1="74.70" y1="32.60" x2="75.10" y2="36.60" stroke="#111" stroke-width="1.1"/>
<line x1="62.90" y1="34.00" x2="20.80" y2="113.40" stroke="#111" stroke-width="1.2" stroke-dasharray="4.2 2.6"/>
<line x1="74.70" y1="33.10" x2="95.70" y2="113.40" stroke="#111" stroke-width="1.2" stroke-dasharray="4.2 2.6"/>
<rect x="21.30" y="113.60" width="74.20" height="73.90" fill="url(#gAFM)" stroke="none" stroke-width="1"/>
<rect x="21.30" y="113.60" width="74.20" height="73.90" fill="url(#gAFMv)" stroke="none" stroke-width="1"/>
<rect x="21.30" y="113.60" width="74.20" height="73.90" fill="#e0b050" stroke="none" stroke-width="1" filter="url(#fNoise)" opacity="0.45" mask="url(#mAFMc)"/>
<rect x="21.30" y="113.60" width="74.20" height="73.90" fill="#300800" stroke="none" stroke-width="1" filter="url(#fNoiseD)" opacity="0.5"/>
<circle cx="72" cy="128" r="0.9" fill="#fff6d8" opacity="0.85"/>
<circle cx="70.5" cy="131" r="0.8" fill="#fff6d8" opacity="0.85"/>
<circle cx="67" cy="135" r="0.6" fill="#fff6d8" opacity="0.85"/>
<circle cx="57" cy="128" r="0.5" fill="#fff6d8" opacity="0.85"/>
<circle cx="79" cy="140" r="0.5" fill="#fff6d8" opacity="0.85"/>
<circle cx="48" cy="170" r="0.5" fill="#fff6d8" opacity="0.85"/>
<circle cx="60" cy="165" r="0.6" fill="#fff6d8" opacity="0.85"/>
<circle cx="35" cy="150" r="0.4" fill="#fff6d8" opacity="0.85"/>
<circle cx="52" cy="140" r="0.4" fill="#fff6d8" opacity="0.85"/>
<rect x="42.80" y="180.40" width="29.80" height="3.60" fill="#fff" stroke="none" stroke-width="1"/>
<rect x="112.80" y="131.50" width="6.70" height="37.90" fill="url(#gCbar)" stroke="#111" stroke-width="0.8"/>
<text x="102.30" y="129.30" font-size="9.3" text-anchor="start" font-weight="normal" fill="#111" stroke="#111">40 nm</text>
<text x="100.80" y="178.00" font-size="9.3" text-anchor="start" font-weight="normal" fill="#111" stroke="#111">-40 nm</text>
<text x="125.40" y="556.50" font-size="11.5" text-anchor="middle" font-weight="normal" fill="#111" stroke="#111">Day 1</text>
<text x="197.50" y="556.50" font-size="11.5" text-anchor="middle" font-weight="normal" fill="#111" stroke="#111">Day 7</text>
<text x="271.90" y="556.50" font-size="11.5" text-anchor="middle" font-weight="normal" fill="#111" stroke="#111">Day 14</text>
<text x="346.00" y="556.50" font-size="11.5" text-anchor="middle" font-weight="normal" fill="#111" stroke="#111">Day 22</text>
<text x="422.50" y="556.50" font-size="11.5" text-anchor="middle" font-weight="normal" fill="#111" stroke="#111">Day 28</text>
<text x="49.70" y="596.80" font-size="11.7" text-anchor="middle" font-weight="normal" fill="#111" stroke="#111">Pure PHBH</text>
<text x="49.70" y="645.60" font-size="11.7" text-anchor="middle" font-weight="normal" fill="#111" stroke="#111">PHBH</text>
<text x="49.70" y="660.30" font-size="11.7" text-anchor="middle" font-weight="normal" fill="#111" stroke="#111">50% cellulose</text>
<text x="423.00" y="592.60" font-size="8.1" text-anchor="middle" font-weight="normal" fill="#111" stroke="#111">Disintegrated</text>
<text x="347.30" y="653.90" font-size="8.1" text-anchor="middle" font-weight="normal" fill="#111" stroke="#111">Disintegrated</text>
<text x="423.00" y="653.90" font-size="8.1" text-anchor="middle" font-weight="normal" fill="#111" stroke="#111">Disintegrated</text>
<polygon points="98.10,564.30 151.70,564.60 151.60,617.30 98.40,617.00" fill="#e3f3e5"/>
<polygon points="169.70,566.00 222.60,565.60 222.80,618.20 169.90,618.00" fill="#e5f1df"/>
<polygon points="98.70,628.90 152.30,628.40 152.30,682.50 98.90,682.30" fill="#d5dab2"/>
<polygon points="169.70,627.50 223.90,627.20 223.90,682.50 169.90,682.50" fill="#bfbb97"/>
<rect x="169.70" y="627.20" width="54.20" height="55.30" fill="#a8a080" stroke="none" stroke-width="1" filter="url(#fNoise2)" opacity="0.5"/>
<polygon points="242.80,564.60 252.00,564.20 262.00,565.00 275.00,564.40 290.00,564.80 299.60,564.30 299.20,578.00 299.80,592.00 299.40,606.00 299.40,620.20 286.00,619.60 272.00,620.40 258.00,619.40 243.20,619.80 243.60,606.00 242.60,592.00 243.40,578.00" fill="#e6eed6"/>
<g clip-path="url(#clipD14)">
<g filter="url(#fBlur2)" opacity="0.55">
<ellipse cx="262" cy="588" rx="12" ry="7" fill="#a08040"/>
<ellipse cx="280" cy="582" rx="10" ry="6" fill="#a08040"/>
<ellipse cx="258" cy="572" rx="8" ry="4" fill="#a08040"/>
<ellipse cx="288" cy="606" rx="9" ry="6" fill="#a08040"/>
<ellipse cx="270" cy="600" rx="7" ry="5" fill="#a08040"/>
<ellipse cx="250" cy="604" rx="6" ry="5" fill="#a08040"/>
</g>
<rect x="242.80" y="564.30" width="57.00" height="56.00" fill="#8a6a30" stroke="none" stroke-width="1" filter="url(#fBlot)" mask="url(#mD14)"/>
</g>
<polygon points="255.00,596.00 258.50,594.00 261.00,597.50 258.00,600.50" fill="#fff"/>
<polygon points="244.00,598.00 246.00,597.00 246.50,601.00 244.50,602.00" fill="#fff"/>
<polygon points="315.10,587.60 320.40,586.10 325.00,584.50 328.20,586.10 332.80,583.00 335.00,578.30 337.50,574.30 342.10,573.00 344.30,576.70 343.70,581.40 346.80,584.50 351.50,581.40 354.60,579.80 359.20,577.40 362.30,576.70 365.40,574.30 370.10,573.60 374.80,572.10 377.20,573.60 377.90,586.10 376.30,598.50 371.60,601.60 365.40,603.10 362.30,601.00 357.70,600.00 353.00,601.60 348.40,603.10 342.10,604.10 334.40,604.70 328.20,604.10 323.50,605.60 318.90,607.20 316.40,604.70 315.10,598.50 314.20,592.30" fill="#e4ebd6"/>
<g clip-path="url(#clipD22)">
<g filter="url(#fBlur2)" opacity="0.55">
<ellipse cx="324" cy="596" rx="8" ry="6" fill="#987838"/>
<ellipse cx="340" cy="590" rx="7" ry="8" fill="#987838"/>
<ellipse cx="352" cy="592" rx="5" ry="5" fill="#987838"/>
<ellipse cx="336" cy="600" rx="6" ry="4" fill="#987838"/>
</g>
<rect x="314.00" y="571.00" width="64.00" height="37.00" fill="#8c7034" stroke="none" stroke-width="1" filter="url(#fBlot2)" mask="url(#mD22)"/>
</g>
<polygon points="241.20,640.00 246.00,638.90 250.50,640.50 250.00,646.00 247.00,649.70 243.00,648.50 241.50,644.00" fill="#c4bc80"/>
<polygon points="259.80,633.00 266.00,630.00 272.00,629.50 277.00,631.00 278.50,636.00 276.00,643.00 270.00,646.60 262.00,645.50 259.80,640.00" fill="#a89a58"/>
<polygon points="264.50,655.00 270.00,651.30 278.00,652.00 284.70,655.00 283.00,662.00 278.00,666.80 270.00,666.00 265.00,662.00" fill="#806430"/>
<polygon points="284.70,651.00 290.00,648.20 297.10,649.00 296.00,654.00 290.00,656.00 286.00,655.00" fill="#bcae70"/>
<polygon points="245.90,662.00 250.00,659.00 256.00,660.00 258.30,664.00 256.00,670.00 250.00,671.50 246.50,668.00" fill="#a8944c"/>
<polygon points="258.30,671.00 262.00,669.90 264.50,673.00 263.00,677.70 259.50,677.00" fill="#b4a064"/>
<polygon points="266.00,672.00 272.00,669.90 278.00,671.00 280.00,675.00 277.00,679.20 270.00,678.50 266.50,676.00" fill="#ac9854"/>
</svg>
</body></html>
